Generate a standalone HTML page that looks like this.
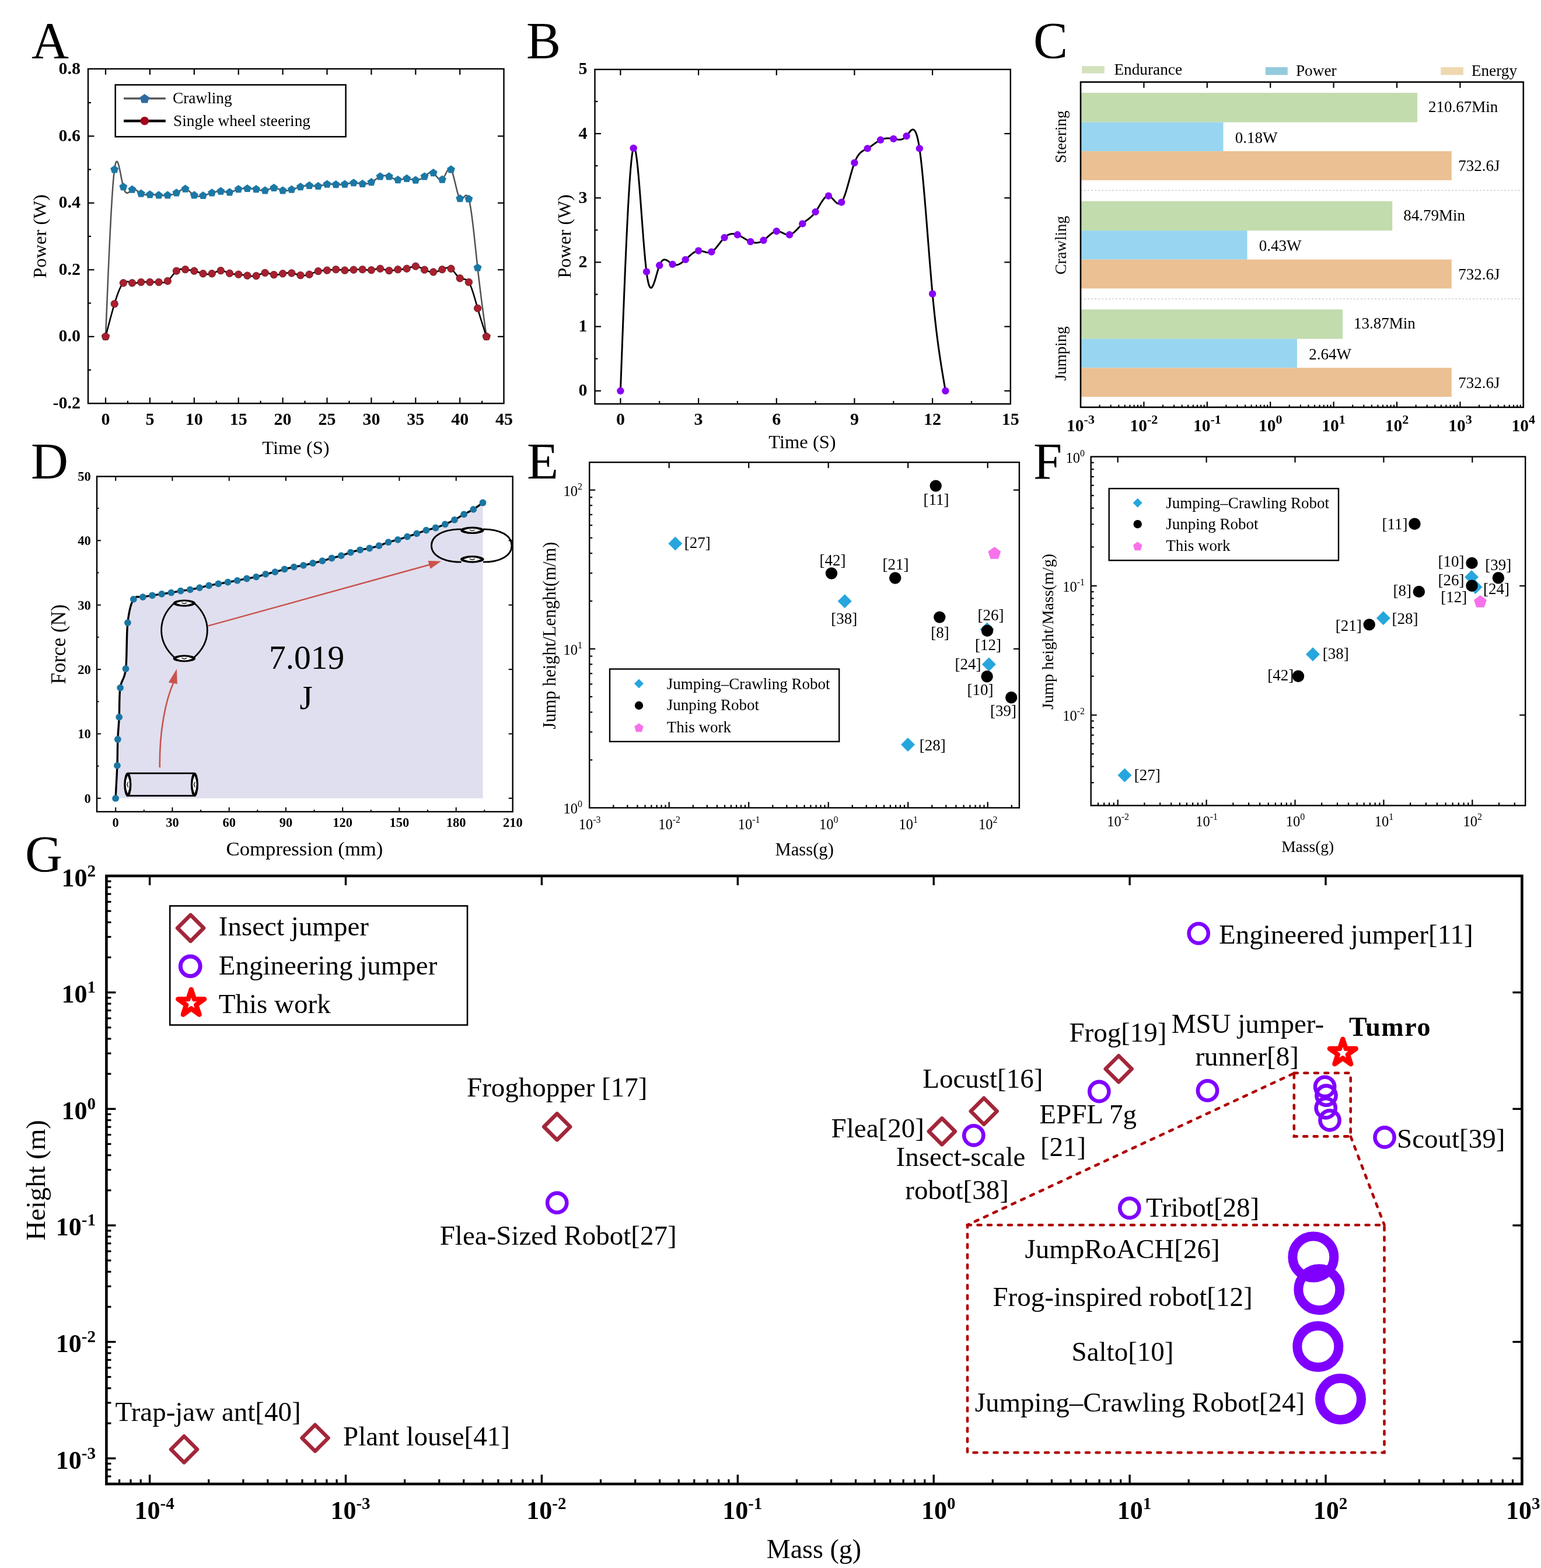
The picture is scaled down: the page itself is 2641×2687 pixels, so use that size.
<!DOCTYPE html>
<html><head><meta charset="utf-8"><title>Figure</title>
<style>html,body{margin:0;padding:0;background:#fff;overflow:hidden;} svg{display:block;} text{font-family:'Liberation Serif','Times New Roman',serif;}</style>
</head><body>
<svg width="2641" height="2687" viewBox="0 0 2641 2687">
<rect x="0" y="0" width="2641" height="2687" fill="#fff"/>
<text x="54.0" y="98.5" font-size="88.5" text-anchor="start" fill="#000">A</text>
<text x="902.0" y="98.5" font-size="88.5" text-anchor="start" fill="#000">B</text>
<text x="1771.0" y="98.5" font-size="88.5" text-anchor="start" fill="#000">C</text>
<text x="53.0" y="819.5" font-size="88.5" text-anchor="start" fill="#000">D</text>
<text x="903.0" y="819.5" font-size="88.5" text-anchor="start" fill="#000">E</text>
<text x="1771.0" y="819.5" font-size="88.5" text-anchor="start" fill="#000">F</text>
<text x="43.0" y="1493.0" font-size="88.5" text-anchor="start" fill="#000">G</text>
<rect x="151.0" y="118.0" width="712.5" height="573.3" fill="none" stroke="#000" stroke-width="2.4"/>
<line x1="181.0" y1="691.3" x2="181.0" y2="681.3" stroke="#000" stroke-width="2.2"/>
<line x1="181.0" y1="118.0" x2="181.0" y2="128.0" stroke="#000" stroke-width="2.2"/>
<text x="181.0" y="727.5" font-size="30" text-anchor="middle" font-weight="bold" fill="#000">0</text>
<line x1="256.9" y1="691.3" x2="256.9" y2="681.3" stroke="#000" stroke-width="2.2"/>
<line x1="256.9" y1="118.0" x2="256.9" y2="128.0" stroke="#000" stroke-width="2.2"/>
<text x="256.9" y="727.5" font-size="30" text-anchor="middle" font-weight="bold" fill="#000">5</text>
<line x1="332.8" y1="691.3" x2="332.8" y2="681.3" stroke="#000" stroke-width="2.2"/>
<line x1="332.8" y1="118.0" x2="332.8" y2="128.0" stroke="#000" stroke-width="2.2"/>
<text x="332.8" y="727.5" font-size="30" text-anchor="middle" font-weight="bold" fill="#000">10</text>
<line x1="408.7" y1="691.3" x2="408.7" y2="681.3" stroke="#000" stroke-width="2.2"/>
<line x1="408.7" y1="118.0" x2="408.7" y2="128.0" stroke="#000" stroke-width="2.2"/>
<text x="408.7" y="727.5" font-size="30" text-anchor="middle" font-weight="bold" fill="#000">15</text>
<line x1="484.6" y1="691.3" x2="484.6" y2="681.3" stroke="#000" stroke-width="2.2"/>
<line x1="484.6" y1="118.0" x2="484.6" y2="128.0" stroke="#000" stroke-width="2.2"/>
<text x="484.6" y="727.5" font-size="30" text-anchor="middle" font-weight="bold" fill="#000">20</text>
<line x1="560.5" y1="691.3" x2="560.5" y2="681.3" stroke="#000" stroke-width="2.2"/>
<line x1="560.5" y1="118.0" x2="560.5" y2="128.0" stroke="#000" stroke-width="2.2"/>
<text x="560.5" y="727.5" font-size="30" text-anchor="middle" font-weight="bold" fill="#000">25</text>
<line x1="636.4" y1="691.3" x2="636.4" y2="681.3" stroke="#000" stroke-width="2.2"/>
<line x1="636.4" y1="118.0" x2="636.4" y2="128.0" stroke="#000" stroke-width="2.2"/>
<text x="636.4" y="727.5" font-size="30" text-anchor="middle" font-weight="bold" fill="#000">30</text>
<line x1="712.3" y1="691.3" x2="712.3" y2="681.3" stroke="#000" stroke-width="2.2"/>
<line x1="712.3" y1="118.0" x2="712.3" y2="128.0" stroke="#000" stroke-width="2.2"/>
<text x="712.3" y="727.5" font-size="30" text-anchor="middle" font-weight="bold" fill="#000">35</text>
<line x1="788.2" y1="691.3" x2="788.2" y2="681.3" stroke="#000" stroke-width="2.2"/>
<line x1="788.2" y1="118.0" x2="788.2" y2="128.0" stroke="#000" stroke-width="2.2"/>
<text x="788.2" y="727.5" font-size="30" text-anchor="middle" font-weight="bold" fill="#000">40</text>
<text x="864.1" y="727.5" font-size="30" text-anchor="middle" font-weight="bold" fill="#000">45</text>
<line x1="218.9" y1="691.3" x2="218.9" y2="686.8" stroke="#000" stroke-width="2.2"/>
<line x1="294.9" y1="691.3" x2="294.9" y2="686.8" stroke="#000" stroke-width="2.2"/>
<line x1="370.8" y1="691.3" x2="370.8" y2="686.8" stroke="#000" stroke-width="2.2"/>
<line x1="446.6" y1="691.3" x2="446.6" y2="686.8" stroke="#000" stroke-width="2.2"/>
<line x1="522.5" y1="691.3" x2="522.5" y2="686.8" stroke="#000" stroke-width="2.2"/>
<line x1="598.5" y1="691.3" x2="598.5" y2="686.8" stroke="#000" stroke-width="2.2"/>
<line x1="674.3" y1="691.3" x2="674.3" y2="686.8" stroke="#000" stroke-width="2.2"/>
<line x1="750.2" y1="691.3" x2="750.2" y2="686.8" stroke="#000" stroke-width="2.2"/>
<line x1="826.1" y1="691.3" x2="826.1" y2="686.8" stroke="#000" stroke-width="2.2"/>
<text x="138.0" y="699.8" font-size="30" text-anchor="end" font-weight="bold" fill="#000">-0.2</text>
<line x1="151.0" y1="576.8" x2="161.5" y2="576.8" stroke="#000" stroke-width="2.2"/>
<line x1="863.5" y1="576.8" x2="853.0" y2="576.8" stroke="#000" stroke-width="2.2"/>
<text x="138.0" y="585.3" font-size="30" text-anchor="end" font-weight="bold" fill="#000">0.0</text>
<line x1="151.0" y1="462.3" x2="161.5" y2="462.3" stroke="#000" stroke-width="2.2"/>
<line x1="863.5" y1="462.3" x2="853.0" y2="462.3" stroke="#000" stroke-width="2.2"/>
<text x="138.0" y="470.8" font-size="30" text-anchor="end" font-weight="bold" fill="#000">0.2</text>
<line x1="151.0" y1="347.8" x2="161.5" y2="347.8" stroke="#000" stroke-width="2.2"/>
<line x1="863.5" y1="347.8" x2="853.0" y2="347.8" stroke="#000" stroke-width="2.2"/>
<text x="138.0" y="356.3" font-size="30" text-anchor="end" font-weight="bold" fill="#000">0.4</text>
<line x1="151.0" y1="233.3" x2="161.5" y2="233.3" stroke="#000" stroke-width="2.2"/>
<line x1="863.5" y1="233.3" x2="853.0" y2="233.3" stroke="#000" stroke-width="2.2"/>
<text x="138.0" y="241.8" font-size="30" text-anchor="end" font-weight="bold" fill="#000">0.6</text>
<text x="138.0" y="127.3" font-size="30" text-anchor="end" font-weight="bold" fill="#000">0.8</text>
<line x1="151.0" y1="634.0" x2="156.0" y2="634.0" stroke="#000" stroke-width="2.2"/>
<line x1="151.0" y1="519.5" x2="156.0" y2="519.5" stroke="#000" stroke-width="2.2"/>
<line x1="151.0" y1="405.0" x2="156.0" y2="405.0" stroke="#000" stroke-width="2.2"/>
<line x1="151.0" y1="290.5" x2="156.0" y2="290.5" stroke="#000" stroke-width="2.2"/>
<line x1="151.0" y1="176.0" x2="156.0" y2="176.0" stroke="#000" stroke-width="2.2"/>
<text x="78.5" y="405.0" font-size="32.5" text-anchor="middle" transform="rotate(-90 78.5 405.0)" fill="#000">Power (W)</text>
<text x="507.0" y="777.5" font-size="32.5" text-anchor="middle" fill="#000">Time (S)</text>
<polyline points="181.00,576.80 181.76,558.17 182.52,539.61 183.28,521.17 184.04,502.93 184.79,484.95 185.55,467.30 186.31,450.03 187.07,433.22 187.83,416.92 188.59,401.22 189.35,386.16 190.11,371.81 190.87,358.25 191.63,345.52 192.38,333.71 193.14,322.87 193.90,313.07 194.66,304.37 195.42,296.85 196.18,290.55 196.94,285.53 197.70,281.72 198.46,279.03 199.22,277.38 199.97,276.67 200.73,276.83 201.49,277.75 202.25,279.37 203.01,281.58 203.77,284.30 204.53,287.45 205.29,290.93 206.05,294.65 206.81,298.54 207.56,302.50 208.32,306.45 209.08,310.29 209.84,313.94 210.60,317.31 211.36,320.32 212.12,322.89 212.88,325.05 213.64,326.80 214.40,328.19 215.16,329.25 215.91,330.00 216.67,330.48 217.43,330.70 218.19,330.71 218.95,330.54 219.71,330.20 220.47,329.73 221.23,329.17 221.99,328.53 222.75,327.86 223.50,327.17 224.26,326.50 225.02,325.88 225.78,325.34 226.54,324.90 227.30,324.59 228.06,324.41 228.82,324.35 229.58,324.39 230.34,324.53 231.09,324.76 231.85,325.06 232.61,325.44 233.37,325.87 234.13,326.35 234.89,326.87 235.65,327.43 236.41,328.00 237.17,328.58 237.93,329.17 238.68,329.74 239.44,330.30 240.20,330.83 240.96,331.32 241.72,331.77 242.48,332.16 243.24,332.50 244.00,332.79 244.76,333.03 245.51,333.23 246.27,333.39 247.03,333.51 247.79,333.60 248.55,333.67 249.31,333.71 250.07,333.72 250.83,333.72 251.59,333.71 252.35,333.68 253.11,333.65 253.86,333.61 254.62,333.57 255.38,333.53 256.14,333.51 256.90,333.49 257.66,333.48 258.42,333.49 259.18,333.51 259.94,333.54 260.69,333.57 261.45,333.62 262.21,333.68 262.97,333.74 263.73,333.81 264.49,333.88 265.25,333.95 266.01,334.03 266.77,334.11 267.53,334.19 268.28,334.27 269.04,334.35 269.80,334.43 270.56,334.50 271.32,334.57 272.08,334.63 272.84,334.69 273.60,334.74 274.36,334.79 275.12,334.82 275.88,334.86 276.63,334.88 277.39,334.90 278.15,334.92 278.91,334.93 279.67,334.93 280.43,334.92 281.19,334.92 281.95,334.90 282.71,334.88 283.47,334.85 284.22,334.82 284.98,334.78 285.74,334.74 286.50,334.69 287.26,334.63 288.02,334.57 288.78,334.50 289.54,334.43 290.30,334.34 291.06,334.25 291.81,334.14 292.57,334.02 293.33,333.88 294.09,333.73 294.85,333.56 295.61,333.37 296.37,333.16 297.13,332.93 297.89,332.68 298.64,332.41 299.40,332.11 300.16,331.78 300.92,331.42 301.68,331.04 302.44,330.62 303.20,330.18 303.96,329.71 304.72,329.22 305.48,328.72 306.24,328.20 306.99,327.69 307.75,327.18 308.51,326.69 309.27,326.20 310.03,325.75 310.79,325.32 311.55,324.92 312.31,324.57 313.07,324.26 313.82,324.01 314.58,323.82 315.34,323.69 316.10,323.63 316.86,323.65 317.62,323.75 318.38,323.95 319.14,324.22 319.90,324.57 320.66,324.98 321.41,325.45 322.17,325.98 322.93,326.55 323.69,327.16 324.45,327.79 325.21,328.45 325.97,329.13 326.73,329.81 327.49,330.49 328.25,331.17 329.00,331.82 329.76,332.46 330.52,333.07 331.28,333.64 332.04,334.16 332.80,334.63 333.56,335.05 334.32,335.40 335.08,335.70 335.84,335.96 336.60,336.16 337.35,336.31 338.11,336.42 338.87,336.50 339.63,336.53 340.39,336.53 341.15,336.50 341.91,336.43 342.67,336.35 343.43,336.23 344.19,336.10 344.94,335.94 345.70,335.78 346.46,335.60 347.22,335.40 347.98,335.20 348.74,335.00 349.50,334.79 350.26,334.58 351.02,334.37 351.77,334.15 352.53,333.92 353.29,333.70 354.05,333.47 354.81,333.24 355.57,333.01 356.33,332.77 357.09,332.54 357.85,332.30 358.61,332.06 359.37,331.82 360.12,331.58 360.88,331.34 361.64,331.10 362.40,330.86 363.16,330.62 363.92,330.39 364.68,330.15 365.44,329.92 366.20,329.69 366.95,329.47 367.71,329.26 368.47,329.05 369.23,328.86 369.99,328.68 370.75,328.51 371.51,328.35 372.27,328.21 373.03,328.08 373.79,327.97 374.54,327.88 375.30,327.81 376.06,327.76 376.82,327.74 377.58,327.74 378.34,327.76 379.10,327.81 379.86,327.89 380.62,327.98 381.38,328.09 382.13,328.21 382.89,328.35 383.65,328.49 384.41,328.63 385.17,328.78 385.93,328.92 386.69,329.06 387.45,329.19 388.21,329.30 388.97,329.40 389.73,329.48 390.48,329.54 391.24,329.57 392.00,329.57 392.76,329.54 393.52,329.48 394.28,329.38 395.04,329.24 395.80,329.07 396.56,328.87 397.31,328.65 398.07,328.40 398.83,328.13 399.59,327.85 400.35,327.55 401.11,327.24 401.87,326.93 402.63,326.61 403.39,326.30 404.15,325.98 404.90,325.67 405.66,325.37 406.42,325.08 407.18,324.81 407.94,324.56 408.70,324.33 409.46,324.12 410.22,323.94 410.98,323.78 411.74,323.64 412.50,323.52 413.25,323.42 414.01,323.33 414.77,323.26 415.53,323.21 416.29,323.17 417.05,323.14 417.81,323.12 418.57,323.11 419.33,323.11 420.09,323.11 420.84,323.12 421.60,323.13 422.36,323.15 423.12,323.17 423.88,323.18 424.64,323.20 425.40,323.21 426.16,323.23 426.92,323.24 427.67,323.26 428.43,323.28 429.19,323.31 429.95,323.33 430.71,323.37 431.47,323.41 432.23,323.45 432.99,323.51 433.75,323.57 434.51,323.64 435.26,323.73 436.02,323.82 436.78,323.93 437.54,324.05 438.30,324.18 439.06,324.33 439.82,324.49 440.58,324.67 441.34,324.85 442.10,325.04 442.86,325.24 443.61,325.43 444.37,325.63 445.13,325.81 445.89,326.00 446.65,326.17 447.41,326.32 448.17,326.46 448.93,326.58 449.69,326.68 450.44,326.75 451.20,326.79 451.96,326.80 452.72,326.78 453.48,326.72 454.24,326.62 455.00,326.47 455.76,326.29 456.52,326.08 457.28,325.84 458.03,325.57 458.79,325.28 459.55,324.98 460.31,324.68 461.07,324.36 461.83,324.05 462.59,323.74 463.35,323.45 464.11,323.17 464.87,322.91 465.62,322.67 466.38,322.46 467.14,322.29 467.90,322.16 468.66,322.08 469.42,322.04 470.18,322.05 470.94,322.12 471.70,322.23 472.46,322.38 473.21,322.57 473.97,322.78 474.73,323.03 475.49,323.30 476.25,323.58 477.01,323.88 477.77,324.19 478.53,324.50 479.29,324.82 480.05,325.12 480.81,325.42 481.56,325.71 482.32,325.97 483.08,326.22 483.84,326.43 484.60,326.62 485.36,326.77 486.12,326.88 486.88,326.96 487.64,327.01 488.39,327.03 489.15,327.02 489.91,326.99 490.67,326.93 491.43,326.84 492.19,326.74 492.95,326.62 493.71,326.48 494.47,326.32 495.23,326.15 495.99,325.96 496.74,325.76 497.50,325.56 498.26,325.34 499.02,325.12 499.78,324.90 500.54,324.67 501.30,324.44 502.06,324.21 502.82,323.98 503.57,323.74 504.33,323.51 505.09,323.27 505.85,323.04 506.61,322.80 507.37,322.56 508.13,322.33 508.89,322.10 509.65,321.86 510.41,321.63 511.17,321.41 511.92,321.18 512.68,320.96 513.44,320.74 514.20,320.53 514.96,320.32 515.72,320.11 516.48,319.92 517.24,319.72 518.00,319.53 518.75,319.35 519.51,319.18 520.27,319.02 521.03,318.87 521.79,318.72 522.55,318.59 523.31,318.47 524.07,318.36 524.83,318.27 525.59,318.19 526.35,318.12 527.10,318.07 527.86,318.03 528.62,318.02 529.38,318.01 530.14,318.03 530.90,318.06 531.66,318.12 532.42,318.18 533.18,318.26 533.93,318.34 534.69,318.44 535.45,318.53 536.21,318.63 536.97,318.73 537.73,318.83 538.49,318.92 539.25,319.01 540.01,319.09 540.77,319.15 541.52,319.21 542.28,319.24 543.04,319.26 543.80,319.25 544.56,319.23 545.32,319.17 546.08,319.10 546.84,318.99 547.60,318.86 548.36,318.72 549.12,318.55 549.87,318.37 550.63,318.18 551.39,317.98 552.15,317.77 552.91,317.55 553.67,317.34 554.43,317.12 555.19,316.91 555.95,316.71 556.70,316.51 557.46,316.32 558.22,316.15 558.98,315.99 559.74,315.86 560.50,315.74 561.26,315.65 562.02,315.58 562.78,315.53 563.54,315.50 564.30,315.48 565.05,315.48 565.81,315.50 566.57,315.53 567.33,315.57 568.09,315.62 568.85,315.68 569.61,315.75 570.37,315.82 571.13,315.89 571.88,315.97 572.64,316.04 573.40,316.12 574.16,316.19 574.92,316.25 575.68,316.31 576.44,316.36 577.20,316.41 577.96,316.45 578.72,316.47 579.47,316.49 580.23,316.50 580.99,316.51 581.75,316.50 582.51,316.49 583.27,316.47 584.03,316.43 584.79,316.39 585.55,316.35 586.31,316.29 587.07,316.22 587.82,316.14 588.58,316.06 589.34,315.96 590.10,315.85 590.86,315.74 591.62,315.62 592.38,315.48 593.14,315.34 593.90,315.20 594.65,315.05 595.41,314.90 596.17,314.75 596.93,314.60 597.69,314.45 598.45,314.31 599.21,314.17 599.97,314.04 600.73,313.92 601.49,313.81 602.25,313.71 603.00,313.63 603.76,313.56 604.52,313.50 605.28,313.47 606.04,313.45 606.80,313.45 607.56,313.48 608.32,313.52 609.08,313.57 609.84,313.64 610.59,313.73 611.35,313.82 612.11,313.92 612.87,314.03 613.63,314.14 614.39,314.26 615.15,314.38 615.91,314.50 616.67,314.61 617.42,314.73 618.18,314.83 618.94,314.93 619.70,315.02 620.46,315.10 621.22,315.17 621.98,315.22 622.74,315.26 623.50,315.28 624.26,315.28 625.01,315.27 625.77,315.23 626.53,315.18 627.29,315.11 628.05,315.01 628.81,314.89 629.57,314.75 630.33,314.59 631.09,314.40 631.85,314.18 632.61,313.94 633.36,313.67 634.12,313.38 634.88,313.05 635.64,312.69 636.40,312.30 637.16,311.89 637.92,311.44 638.68,310.97 639.44,310.47 640.19,309.96 640.95,309.44 641.71,308.90 642.47,308.36 643.23,307.81 643.99,307.27 644.75,306.73 645.51,306.19 646.27,305.66 647.03,305.15 647.78,304.66 648.54,304.18 649.30,303.74 650.06,303.32 650.82,302.93 651.58,302.57 652.34,302.26 653.10,301.98 653.86,301.74 654.62,301.53 655.38,301.36 656.13,301.23 656.89,301.13 657.65,301.06 658.41,301.03 659.17,301.02 659.93,301.05 660.69,301.11 661.45,301.20 662.21,301.31 662.96,301.46 663.72,301.63 664.48,301.83 665.24,302.05 666.00,302.30 666.76,302.57 667.52,302.87 668.28,303.18 669.04,303.51 669.80,303.86 670.56,304.21 671.31,304.57 672.07,304.93 672.83,305.30 673.59,305.65 674.35,306.00 675.11,306.34 675.87,306.66 676.63,306.97 677.39,307.25 678.14,307.51 678.90,307.74 679.66,307.93 680.42,308.10 681.18,308.22 681.94,308.30 682.70,308.33 683.46,308.33 684.22,308.28 684.98,308.20 685.74,308.10 686.49,307.97 687.25,307.82 688.01,307.65 688.77,307.48 689.53,307.29 690.29,307.10 691.05,306.92 691.81,306.74 692.57,306.57 693.33,306.41 694.08,306.28 694.84,306.16 695.60,306.08 696.36,306.03 697.12,306.01 697.88,306.03 698.64,306.09 699.40,306.18 700.16,306.30 700.91,306.44 701.67,306.60 702.43,306.79 703.19,306.98 703.95,307.18 704.71,307.39 705.47,307.60 706.23,307.80 706.99,308.00 707.75,308.19 708.50,308.36 709.26,308.52 710.02,308.65 710.78,308.76 711.54,308.83 712.30,308.87 713.06,308.87 713.82,308.84 714.58,308.76 715.34,308.66 716.10,308.51 716.85,308.33 717.61,308.12 718.37,307.87 719.13,307.59 719.89,307.28 720.65,306.94 721.41,306.57 722.17,306.16 722.93,305.73 723.68,305.27 724.44,304.78 725.20,304.27 725.96,303.73 726.72,303.16 727.48,302.57 728.24,301.96 729.00,301.33 729.76,300.69 730.52,300.06 731.27,299.43 732.03,298.81 732.79,298.22 733.55,297.66 734.31,297.14 735.07,296.67 735.83,296.25 736.59,295.90 737.35,295.61 738.11,295.41 738.87,295.29 739.62,295.27 740.38,295.34 741.14,295.53 741.90,295.84 742.66,296.27 743.42,296.84 744.18,297.52 744.94,298.29 745.70,299.14 746.46,300.05 747.21,301.00 747.97,301.97 748.73,302.94 749.49,303.89 750.25,304.81 751.01,305.66 751.77,306.45 752.53,307.14 753.29,307.71 754.04,308.16 754.80,308.45 755.56,308.57 756.32,308.50 757.08,308.23 757.84,307.72 758.60,306.98 759.36,306.03 760.12,304.90 760.88,303.62 761.63,302.23 762.39,300.76 763.15,299.24 763.91,297.71 764.67,296.20 765.43,294.75 766.19,293.38 766.95,292.14 767.71,291.05 768.47,290.14 769.23,289.46 769.98,289.04 770.74,288.90 771.50,289.08 772.26,289.62 773.02,290.55 773.78,291.89 774.54,293.60 775.30,295.65 776.06,298.00 776.81,300.59 777.57,303.40 778.33,306.36 779.09,309.45 779.85,312.62 780.61,315.82 781.37,319.02 782.13,322.16 782.89,325.21 783.65,328.13 784.40,330.86 785.16,333.38 785.92,335.63 786.68,337.57 787.44,339.16 788.20,340.36 788.96,341.13 789.72,341.52 790.48,341.58 791.24,341.36 792.00,340.90 792.75,340.26 793.51,339.49 794.27,338.64 795.03,337.76 795.79,336.91 796.55,336.13 797.31,335.48 798.07,335.01 798.83,334.76 799.59,334.79 800.34,335.15 801.10,335.90 801.86,337.08 802.62,338.74 803.38,340.93 804.14,343.70 804.90,347.01 805.66,350.84 806.42,355.14 807.17,359.89 807.93,365.03 808.69,370.54 809.45,376.39 810.21,382.52 810.97,388.91 811.73,395.52 812.49,402.32 813.25,409.26 814.01,416.31 814.76,423.43 815.52,430.59 816.28,437.75 817.04,444.87 817.80,451.92 818.56,458.86 819.32,465.67 820.08,472.33 820.84,478.86 821.60,485.26 822.36,491.55 823.11,497.73 823.87,503.81 824.63,509.79 825.39,515.68 826.15,521.49 826.91,527.23 827.67,532.91 828.43,538.52 829.19,544.09 829.94,549.60 830.70,555.09 831.46,560.54 832.22,565.97 832.98,571.39 833.74,576.80" fill="none" stroke="#505050" stroke-width="2.5" stroke-linejoin="round"/>
<polyline points="181.00,576.80 181.76,573.86 182.52,570.91 183.28,567.98 184.04,565.04 184.79,562.12 185.55,559.21 186.31,556.31 187.07,553.42 187.83,550.55 188.59,547.71 189.35,544.88 190.11,542.07 190.87,539.29 191.63,536.54 192.38,533.82 193.14,531.13 193.90,528.47 194.66,525.85 195.42,523.27 196.18,520.73 196.94,518.23 197.70,515.78 198.46,513.38 199.22,511.03 199.97,508.75 200.73,506.53 201.49,504.38 202.25,502.31 203.01,500.31 203.77,498.40 204.53,496.58 205.29,494.85 206.05,493.22 206.81,491.69 207.56,490.26 208.32,488.95 209.08,487.76 209.84,486.68 210.60,485.74 211.36,484.92 212.12,484.23 212.88,483.67 213.64,483.23 214.40,482.89 215.16,482.65 215.91,482.51 216.67,482.44 217.43,482.45 218.19,482.52 218.95,482.64 219.71,482.81 220.47,483.02 221.23,483.25 221.99,483.50 222.75,483.77 223.50,484.03 224.26,484.29 225.02,484.53 225.78,484.74 226.54,484.92 227.30,485.05 228.06,485.15 228.82,485.21 229.58,485.24 230.34,485.23 231.09,485.20 231.85,485.14 232.61,485.06 233.37,484.96 234.13,484.84 234.89,484.71 235.65,484.58 236.41,484.43 237.17,484.28 237.93,484.14 238.68,483.99 239.44,483.85 240.20,483.72 240.96,483.61 241.72,483.50 242.48,483.42 243.24,483.35 244.00,483.30 244.76,483.26 245.51,483.24 246.27,483.22 247.03,483.22 247.79,483.22 248.55,483.24 249.31,483.26 250.07,483.28 250.83,483.31 251.59,483.34 252.35,483.37 253.11,483.40 253.86,483.43 254.62,483.46 255.38,483.48 256.14,483.50 256.90,483.50 257.66,483.50 258.42,483.50 259.18,483.49 259.94,483.47 260.69,483.45 261.45,483.42 262.21,483.40 262.97,483.37 263.73,483.35 264.49,483.33 265.25,483.31 266.01,483.30 266.77,483.29 267.53,483.29 268.28,483.30 269.04,483.31 269.80,483.34 270.56,483.38 271.32,483.44 272.08,483.50 272.84,483.59 273.60,483.68 274.36,483.78 275.12,483.88 275.88,483.97 276.63,484.06 277.39,484.13 278.15,484.18 278.91,484.22 279.67,484.22 280.43,484.19 281.19,484.12 281.95,484.01 282.71,483.85 283.47,483.64 284.22,483.37 284.98,483.04 285.74,482.64 286.50,482.17 287.26,481.62 288.02,480.99 288.78,480.29 289.54,479.52 290.30,478.70 291.06,477.83 291.81,476.91 292.57,475.96 293.33,474.98 294.09,473.99 294.85,472.99 295.61,471.98 296.37,470.99 297.13,470.00 297.89,469.04 298.64,468.11 299.40,467.21 300.16,466.37 300.92,465.58 301.68,464.84 302.44,464.18 303.20,463.60 303.96,463.09 304.72,462.65 305.48,462.28 306.24,461.97 306.99,461.71 307.75,461.51 308.51,461.36 309.27,461.25 310.03,461.18 310.79,461.15 311.55,461.15 312.31,461.18 313.07,461.24 313.82,461.31 314.58,461.40 315.34,461.50 316.10,461.61 316.86,461.72 317.62,461.83 318.38,461.93 319.14,462.03 319.90,462.13 320.66,462.23 321.41,462.32 322.17,462.41 322.93,462.51 323.69,462.60 324.45,462.70 325.21,462.80 325.97,462.90 326.73,463.01 327.49,463.13 328.25,463.25 329.00,463.38 329.76,463.52 330.52,463.67 331.28,463.83 332.04,464.00 332.80,464.18 333.56,464.38 334.32,464.59 335.08,464.81 335.84,465.04 336.60,465.28 337.35,465.53 338.11,465.78 338.87,466.03 339.63,466.29 340.39,466.55 341.15,466.81 341.91,467.06 342.67,467.32 343.43,467.57 344.19,467.81 344.94,468.05 345.70,468.28 346.46,468.49 347.22,468.70 347.98,468.90 348.74,469.08 349.50,469.24 350.26,469.40 351.02,469.53 351.77,469.65 352.53,469.75 353.29,469.83 354.05,469.89 354.81,469.94 355.57,469.96 356.33,469.96 357.09,469.94 357.85,469.90 358.61,469.83 359.37,469.74 360.12,469.62 360.88,469.48 361.64,469.31 362.40,469.12 363.16,468.90 363.92,468.65 364.68,468.37 365.44,468.08 366.20,467.76 366.95,467.44 367.71,467.10 368.47,466.77 369.23,466.43 369.99,466.09 370.75,465.76 371.51,465.44 372.27,465.14 373.03,464.85 373.79,464.59 374.54,464.35 375.30,464.15 376.06,463.98 376.82,463.85 377.58,463.76 378.34,463.71 379.10,463.72 379.86,463.77 380.62,463.87 381.38,464.00 382.13,464.17 382.89,464.38 383.65,464.61 384.41,464.86 385.17,465.13 385.93,465.43 386.69,465.73 387.45,466.04 388.21,466.36 388.97,466.68 389.73,467.00 390.48,467.31 391.24,467.61 392.00,467.90 392.76,468.17 393.52,468.43 394.28,468.65 395.04,468.86 395.80,469.04 396.56,469.20 397.31,469.35 398.07,469.47 398.83,469.58 399.59,469.68 400.35,469.77 401.11,469.84 401.87,469.90 402.63,469.96 403.39,470.01 404.15,470.06 404.90,470.10 405.66,470.14 406.42,470.18 407.18,470.22 407.94,470.26 408.70,470.31 409.46,470.36 410.22,470.42 410.98,470.49 411.74,470.56 412.50,470.63 413.25,470.71 414.01,470.79 414.77,470.88 415.53,470.97 416.29,471.07 417.05,471.17 417.81,471.27 418.57,471.38 419.33,471.48 420.09,471.60 420.84,471.71 421.60,471.83 422.36,471.95 423.12,472.07 423.88,472.20 424.64,472.32 425.40,472.45 426.16,472.57 426.92,472.69 427.67,472.80 428.43,472.91 429.19,473.01 429.95,473.10 430.71,473.17 431.47,473.23 432.23,473.28 432.99,473.30 433.75,473.31 434.51,473.30 435.26,473.26 436.02,473.20 436.78,473.11 437.54,472.99 438.30,472.85 439.06,472.67 439.82,472.45 440.58,472.21 441.34,471.95 442.10,471.66 442.86,471.35 443.61,471.03 444.37,470.70 445.13,470.37 445.89,470.04 446.65,469.71 447.41,469.38 448.17,469.07 448.93,468.77 449.69,468.50 450.44,468.24 451.20,468.02 451.96,467.83 452.72,467.67 453.48,467.55 454.24,467.48 455.00,467.46 455.76,467.48 456.52,467.54 457.28,467.64 458.03,467.76 458.79,467.92 459.55,468.10 460.31,468.30 461.07,468.52 461.83,468.75 462.59,468.98 463.35,469.22 464.11,469.46 464.87,469.70 465.62,469.92 466.38,470.14 467.14,470.33 467.90,470.51 468.66,470.66 469.42,470.78 470.18,470.87 470.94,470.93 471.70,470.96 472.46,470.96 473.21,470.93 473.97,470.89 474.73,470.82 475.49,470.73 476.25,470.63 477.01,470.51 477.77,470.37 478.53,470.23 479.29,470.07 480.05,469.91 480.81,469.74 481.56,469.57 482.32,469.40 483.08,469.23 483.84,469.06 484.60,468.90 485.36,468.74 486.12,468.59 486.88,468.45 487.64,468.31 488.39,468.19 489.15,468.07 489.91,467.97 490.67,467.88 491.43,467.80 492.19,467.73 492.95,467.68 493.71,467.64 494.47,467.62 495.23,467.61 495.99,467.62 496.74,467.65 497.50,467.70 498.26,467.76 499.02,467.85 499.78,467.95 500.54,468.08 501.30,468.23 502.06,468.39 502.82,468.57 503.57,468.76 504.33,468.96 505.09,469.17 505.85,469.38 506.61,469.60 507.37,469.83 508.13,470.05 508.89,470.27 509.65,470.49 510.41,470.70 511.17,470.90 511.92,471.10 512.68,471.28 513.44,471.44 514.20,471.59 514.96,471.72 515.72,471.84 516.48,471.93 517.24,472.00 518.00,472.05 518.75,472.08 519.51,472.09 520.27,472.08 521.03,472.05 521.79,472.01 522.55,471.94 523.31,471.86 524.07,471.76 524.83,471.64 525.59,471.50 526.35,471.34 527.10,471.17 527.86,470.98 528.62,470.77 529.38,470.55 530.14,470.31 530.90,470.05 531.66,469.78 532.42,469.50 533.18,469.21 533.93,468.90 534.69,468.60 535.45,468.28 536.21,467.96 536.97,467.65 537.73,467.33 538.49,467.02 539.25,466.71 540.01,466.41 540.77,466.12 541.52,465.83 542.28,465.57 543.04,465.31 543.80,465.07 544.56,464.85 545.32,464.66 546.08,464.48 546.84,464.32 547.60,464.19 548.36,464.07 549.12,463.96 549.87,463.88 550.63,463.80 551.39,463.73 552.15,463.68 552.91,463.63 553.67,463.59 554.43,463.55 555.19,463.52 555.95,463.49 556.70,463.46 557.46,463.42 558.22,463.39 558.98,463.35 559.74,463.30 560.50,463.24 561.26,463.18 562.02,463.10 562.78,463.02 563.54,462.94 564.30,462.84 565.05,462.75 565.81,462.65 566.57,462.56 567.33,462.46 568.09,462.37 568.85,462.28 569.61,462.19 570.37,462.11 571.13,462.04 571.88,461.97 572.64,461.92 573.40,461.88 574.16,461.85 574.92,461.83 575.68,461.83 576.44,461.84 577.20,461.87 577.96,461.92 578.72,461.97 579.47,462.03 580.23,462.11 580.99,462.19 581.75,462.28 582.51,462.37 583.27,462.46 584.03,462.56 584.79,462.66 585.55,462.75 586.31,462.84 587.07,462.93 587.82,463.01 588.58,463.08 589.34,463.15 590.10,463.20 590.86,463.24 591.62,463.27 592.38,463.29 593.14,463.29 593.90,463.28 594.65,463.26 595.41,463.24 596.17,463.20 596.93,463.16 597.69,463.11 598.45,463.05 599.21,462.98 599.97,462.92 600.73,462.85 601.49,462.77 602.25,462.69 603.00,462.61 603.76,462.53 604.52,462.46 605.28,462.38 606.04,462.30 606.80,462.23 607.56,462.15 608.32,462.09 609.08,462.02 609.84,461.96 610.59,461.91 611.35,461.85 612.11,461.81 612.87,461.77 613.63,461.74 614.39,461.71 615.15,461.69 615.91,461.68 616.67,461.67 617.42,461.67 618.18,461.69 618.94,461.71 619.70,461.74 620.46,461.78 621.22,461.83 621.98,461.89 622.74,461.96 623.50,462.04 624.26,462.12 625.01,462.20 625.77,462.29 626.53,462.38 627.29,462.47 628.05,462.55 628.81,462.63 629.57,462.70 630.33,462.77 631.09,462.82 631.85,462.86 632.61,462.89 633.36,462.90 634.12,462.90 634.88,462.88 635.64,462.84 636.40,462.77 637.16,462.68 637.92,462.57 638.68,462.45 639.44,462.31 640.19,462.15 640.95,461.99 641.71,461.82 642.47,461.65 643.23,461.48 643.99,461.31 644.75,461.14 645.51,460.99 646.27,460.85 647.03,460.72 647.78,460.61 648.54,460.51 649.30,460.45 650.06,460.41 650.82,460.39 651.58,460.42 652.34,460.47 653.10,460.56 653.86,460.67 654.62,460.81 655.38,460.97 656.13,461.16 656.89,461.35 657.65,461.56 658.41,461.77 659.17,461.99 659.93,462.21 660.69,462.43 661.45,462.65 662.21,462.85 662.96,463.05 663.72,463.22 664.48,463.38 665.24,463.52 666.00,463.63 666.76,463.71 667.52,463.76 668.28,463.78 669.04,463.78 669.80,463.75 670.56,463.69 671.31,463.62 672.07,463.52 672.83,463.42 673.59,463.30 674.35,463.17 675.11,463.03 675.87,462.88 676.63,462.74 677.39,462.59 678.14,462.44 678.90,462.30 679.66,462.17 680.42,462.04 681.18,461.93 681.94,461.83 682.70,461.75 683.46,461.68 684.22,461.62 684.98,461.57 685.74,461.53 686.49,461.50 687.25,461.47 688.01,461.44 688.77,461.42 689.53,461.38 690.29,461.35 691.05,461.30 691.81,461.25 692.57,461.18 693.33,461.10 694.08,461.01 694.84,460.89 695.60,460.76 696.36,460.60 697.12,460.42 697.88,460.21 698.64,459.97 699.40,459.72 700.16,459.46 700.91,459.18 701.67,458.89 702.43,458.60 703.19,458.31 703.95,458.02 704.71,457.74 705.47,457.47 706.23,457.21 706.99,456.98 707.75,456.76 708.50,456.58 709.26,456.42 710.02,456.30 710.78,456.21 711.54,456.17 712.30,456.17 713.06,456.23 713.82,456.32 714.58,456.46 715.34,456.64 716.10,456.86 716.85,457.11 717.61,457.39 718.37,457.70 719.13,458.03 719.89,458.38 720.65,458.75 721.41,459.13 722.17,459.52 722.93,459.92 723.68,460.33 724.44,460.73 725.20,461.13 725.96,461.53 726.72,461.92 727.48,462.30 728.24,462.66 729.00,463.01 729.76,463.34 730.52,463.66 731.27,463.95 732.03,464.24 732.79,464.50 733.55,464.74 734.31,464.97 735.07,465.17 735.83,465.36 736.59,465.53 737.35,465.67 738.11,465.80 738.87,465.90 739.62,465.98 740.38,466.04 741.14,466.07 741.90,466.08 742.66,466.07 743.42,466.03 744.18,465.97 744.94,465.89 745.70,465.78 746.46,465.66 747.21,465.51 747.97,465.34 748.73,465.16 749.49,464.96 750.25,464.74 751.01,464.50 751.77,464.26 752.53,463.99 753.29,463.72 754.04,463.43 754.80,463.13 755.56,462.82 756.32,462.50 757.08,462.17 757.84,461.83 758.60,461.49 759.36,461.14 760.12,460.80 760.88,460.46 761.63,460.14 762.39,459.84 763.15,459.56 763.91,459.31 764.67,459.10 765.43,458.92 766.19,458.79 766.95,458.70 767.71,458.67 768.47,458.70 769.23,458.80 769.98,458.96 770.74,459.20 771.50,459.52 772.26,459.92 773.02,460.42 773.78,461.00 774.54,461.67 775.30,462.42 776.06,463.23 776.81,464.10 777.57,465.01 778.33,465.96 779.09,466.93 779.85,467.92 780.61,468.91 781.37,469.90 782.13,470.87 782.89,471.82 783.65,472.73 784.40,473.60 785.16,474.41 785.92,475.16 786.68,475.83 787.44,476.42 788.20,476.91 788.96,477.30 789.72,477.60 790.48,477.82 791.24,477.98 792.00,478.09 792.75,478.17 793.51,478.22 794.27,478.27 795.03,478.33 795.79,478.41 796.55,478.53 797.31,478.69 798.07,478.92 798.83,479.23 799.59,479.63 800.34,480.13 801.10,480.76 801.86,481.52 802.62,482.43 803.38,483.50 804.14,484.75 804.90,486.16 805.66,487.73 806.42,489.44 807.17,491.29 807.93,493.27 808.69,495.36 809.45,497.55 810.21,499.84 810.97,502.21 811.73,504.66 812.49,507.17 813.25,509.73 814.01,512.33 814.76,514.97 815.52,517.63 816.28,520.30 817.04,522.97 817.80,525.63 818.56,528.27 819.32,530.88 820.08,533.46 820.84,536.02 821.60,538.55 822.36,541.06 823.11,543.54 823.87,546.01 824.63,548.45 825.39,550.88 826.15,553.29 826.91,555.68 827.67,558.06 828.43,560.43 829.19,562.79 829.94,565.14 830.70,567.48 831.46,569.81 832.22,572.15 832.98,574.47 833.74,576.80" fill="none" stroke="#000" stroke-width="2.6" stroke-linejoin="round"/>
<polygon points="181.00,569.50 187.94,574.54 185.29,582.71 176.71,582.71 174.06,574.54" fill="#1b78a6" stroke="none" stroke-width="0"/>
<polygon points="196.18,283.25 203.12,288.29 200.47,296.46 191.89,296.46 189.24,288.29" fill="#1b78a6" stroke="none" stroke-width="0"/>
<polygon points="211.36,313.02 218.30,318.06 215.65,326.23 207.07,326.23 204.42,318.06" fill="#1b78a6" stroke="none" stroke-width="0"/>
<polygon points="226.54,317.60 233.48,322.64 230.83,330.81 222.25,330.81 219.60,322.64" fill="#1b78a6" stroke="none" stroke-width="0"/>
<polygon points="241.72,324.47 248.66,329.51 246.01,337.68 237.43,337.68 234.78,329.51" fill="#1b78a6" stroke="none" stroke-width="0"/>
<polygon points="256.90,326.19 263.84,331.23 261.19,339.39 252.61,339.39 249.96,331.23" fill="#1b78a6" stroke="none" stroke-width="0"/>
<polygon points="272.08,327.33 279.02,332.38 276.37,340.54 267.79,340.54 265.14,332.38" fill="#1b78a6" stroke="none" stroke-width="0"/>
<polygon points="287.26,327.33 294.20,332.38 291.55,340.54 282.97,340.54 280.32,332.38" fill="#1b78a6" stroke="none" stroke-width="0"/>
<polygon points="302.44,323.32 309.38,328.37 306.73,336.53 298.15,336.53 295.50,328.37" fill="#1b78a6" stroke="none" stroke-width="0"/>
<polygon points="317.62,316.45 324.56,321.50 321.91,329.66 313.33,329.66 310.68,321.50" fill="#1b78a6" stroke="none" stroke-width="0"/>
<polygon points="332.80,327.33 339.74,332.38 337.09,340.54 328.51,340.54 325.86,332.38" fill="#1b78a6" stroke="none" stroke-width="0"/>
<polygon points="347.98,327.90 354.92,332.95 352.27,341.11 343.69,341.11 341.04,332.95" fill="#1b78a6" stroke="none" stroke-width="0"/>
<polygon points="363.16,323.32 370.10,328.37 367.45,336.53 358.87,336.53 356.22,328.37" fill="#1b78a6" stroke="none" stroke-width="0"/>
<polygon points="378.34,320.46 385.28,325.51 382.63,333.67 374.05,333.67 371.40,325.51" fill="#1b78a6" stroke="none" stroke-width="0"/>
<polygon points="393.52,322.18 400.46,327.22 397.81,335.39 389.23,335.39 386.58,327.22" fill="#1b78a6" stroke="none" stroke-width="0"/>
<polygon points="408.70,317.03 415.64,322.07 412.99,330.23 404.41,330.23 401.76,322.07" fill="#1b78a6" stroke="none" stroke-width="0"/>
<polygon points="423.88,315.88 430.82,320.93 428.17,329.09 419.59,329.09 416.94,320.93" fill="#1b78a6" stroke="none" stroke-width="0"/>
<polygon points="439.06,317.03 446.00,322.07 443.35,330.23 434.77,330.23 432.12,322.07" fill="#1b78a6" stroke="none" stroke-width="0"/>
<polygon points="454.24,319.32 461.18,324.36 458.53,332.52 449.95,332.52 447.30,324.36" fill="#1b78a6" stroke="none" stroke-width="0"/>
<polygon points="469.42,314.74 476.36,319.78 473.71,327.94 465.13,327.94 462.48,319.78" fill="#1b78a6" stroke="none" stroke-width="0"/>
<polygon points="484.60,319.32 491.54,324.36 488.89,332.52 480.31,332.52 477.66,324.36" fill="#1b78a6" stroke="none" stroke-width="0"/>
<polygon points="499.78,317.60 506.72,322.64 504.07,330.81 495.49,330.81 492.84,322.64" fill="#1b78a6" stroke="none" stroke-width="0"/>
<polygon points="514.96,313.02 521.90,318.06 519.25,326.23 510.67,326.23 508.02,318.06" fill="#1b78a6" stroke="none" stroke-width="0"/>
<polygon points="530.14,310.73 537.08,315.77 534.43,323.94 525.85,323.94 523.20,315.77" fill="#1b78a6" stroke="none" stroke-width="0"/>
<polygon points="545.32,311.87 552.26,316.92 549.61,325.08 541.03,325.08 538.38,316.92" fill="#1b78a6" stroke="none" stroke-width="0"/>
<polygon points="560.50,308.44 567.44,313.48 564.79,321.65 556.21,321.65 553.56,313.48" fill="#1b78a6" stroke="none" stroke-width="0"/>
<polygon points="575.68,309.01 582.62,314.06 579.97,322.22 571.39,322.22 568.74,314.06" fill="#1b78a6" stroke="none" stroke-width="0"/>
<polygon points="590.86,308.44 597.80,313.48 595.15,321.65 586.57,321.65 583.92,313.48" fill="#1b78a6" stroke="none" stroke-width="0"/>
<polygon points="606.04,306.15 612.98,311.19 610.33,319.36 601.75,319.36 599.10,311.19" fill="#1b78a6" stroke="none" stroke-width="0"/>
<polygon points="621.22,307.87 628.16,312.91 625.51,321.07 616.93,321.07 614.28,312.91" fill="#1b78a6" stroke="none" stroke-width="0"/>
<polygon points="636.40,305.00 643.34,310.05 640.69,318.21 632.11,318.21 629.46,310.05" fill="#1b78a6" stroke="none" stroke-width="0"/>
<polygon points="651.58,295.27 658.52,300.32 655.87,308.48 647.29,308.48 644.64,300.32" fill="#1b78a6" stroke="none" stroke-width="0"/>
<polygon points="666.76,295.27 673.70,300.32 671.05,308.48 662.47,308.48 659.82,300.32" fill="#1b78a6" stroke="none" stroke-width="0"/>
<polygon points="681.94,301.00 688.88,306.04 686.23,314.20 677.65,314.20 675.00,306.04" fill="#1b78a6" stroke="none" stroke-width="0"/>
<polygon points="697.12,298.71 704.06,303.75 701.41,311.91 692.83,311.91 690.18,303.75" fill="#1b78a6" stroke="none" stroke-width="0"/>
<polygon points="712.30,301.57 719.24,306.61 716.59,314.78 708.01,314.78 705.36,306.61" fill="#1b78a6" stroke="none" stroke-width="0"/>
<polygon points="727.48,295.27 734.42,300.32 731.77,308.48 723.19,308.48 720.54,300.32" fill="#1b78a6" stroke="none" stroke-width="0"/>
<polygon points="742.66,288.97 749.60,294.02 746.95,302.18 738.37,302.18 735.72,294.02" fill="#1b78a6" stroke="none" stroke-width="0"/>
<polygon points="757.84,300.42 764.78,305.47 762.13,313.63 753.55,313.63 750.90,305.47" fill="#1b78a6" stroke="none" stroke-width="0"/>
<polygon points="773.02,283.25 779.96,288.29 777.31,296.46 768.73,296.46 766.08,288.29" fill="#1b78a6" stroke="none" stroke-width="0"/>
<polygon points="788.20,333.06 795.14,338.10 792.49,346.26 783.91,346.26 781.26,338.10" fill="#1b78a6" stroke="none" stroke-width="0"/>
<polygon points="803.38,333.63 810.32,338.67 807.67,346.84 799.09,346.84 796.44,338.67" fill="#1b78a6" stroke="none" stroke-width="0"/>
<polygon points="818.56,451.56 825.50,456.61 822.85,464.77 814.27,464.77 811.62,456.61" fill="#1b78a6" stroke="none" stroke-width="0"/>
<polygon points="833.74,569.50 840.68,574.54 838.03,582.71 829.45,582.71 826.80,574.54" fill="#1b78a6" stroke="none" stroke-width="0"/>
<polygon points="181.00,569.50 187.94,574.54 185.29,582.71 176.71,582.71 174.06,574.54" fill="#a91f2e" stroke="none" stroke-width="0"/>
<polygon points="833.74,569.50 840.68,574.54 838.03,582.71 829.45,582.71 826.80,574.54" fill="#a91f2e" stroke="none" stroke-width="0"/>
<circle cx="181.0" cy="576.8" r="6.3" fill="#a91f2e" stroke="#3a0a10" stroke-width="0.6"/>
<circle cx="196.2" cy="520.7" r="6.3" fill="#a91f2e" stroke="#3a0a10" stroke-width="0.6"/>
<circle cx="211.4" cy="484.9" r="6.3" fill="#a91f2e" stroke="#3a0a10" stroke-width="0.6"/>
<circle cx="226.5" cy="484.9" r="6.3" fill="#a91f2e" stroke="#3a0a10" stroke-width="0.6"/>
<circle cx="241.7" cy="483.5" r="6.3" fill="#a91f2e" stroke="#3a0a10" stroke-width="0.6"/>
<circle cx="256.9" cy="483.5" r="6.3" fill="#a91f2e" stroke="#3a0a10" stroke-width="0.6"/>
<circle cx="272.1" cy="483.5" r="6.3" fill="#a91f2e" stroke="#3a0a10" stroke-width="0.6"/>
<circle cx="287.3" cy="481.6" r="6.3" fill="#a91f2e" stroke="#3a0a10" stroke-width="0.6"/>
<circle cx="302.4" cy="464.2" r="6.3" fill="#a91f2e" stroke="#3a0a10" stroke-width="0.6"/>
<circle cx="317.6" cy="461.8" r="6.3" fill="#a91f2e" stroke="#3a0a10" stroke-width="0.6"/>
<circle cx="332.8" cy="464.2" r="6.3" fill="#a91f2e" stroke="#3a0a10" stroke-width="0.6"/>
<circle cx="348.0" cy="468.9" r="6.3" fill="#a91f2e" stroke="#3a0a10" stroke-width="0.6"/>
<circle cx="363.2" cy="468.9" r="6.3" fill="#a91f2e" stroke="#3a0a10" stroke-width="0.6"/>
<circle cx="378.3" cy="463.7" r="6.3" fill="#a91f2e" stroke="#3a0a10" stroke-width="0.6"/>
<circle cx="393.5" cy="468.4" r="6.3" fill="#a91f2e" stroke="#3a0a10" stroke-width="0.6"/>
<circle cx="408.7" cy="470.3" r="6.3" fill="#a91f2e" stroke="#3a0a10" stroke-width="0.6"/>
<circle cx="423.9" cy="472.2" r="6.3" fill="#a91f2e" stroke="#3a0a10" stroke-width="0.6"/>
<circle cx="439.1" cy="472.7" r="6.3" fill="#a91f2e" stroke="#3a0a10" stroke-width="0.6"/>
<circle cx="454.2" cy="467.5" r="6.3" fill="#a91f2e" stroke="#3a0a10" stroke-width="0.6"/>
<circle cx="469.4" cy="470.8" r="6.3" fill="#a91f2e" stroke="#3a0a10" stroke-width="0.6"/>
<circle cx="484.6" cy="468.9" r="6.3" fill="#a91f2e" stroke="#3a0a10" stroke-width="0.6"/>
<circle cx="499.8" cy="468.0" r="6.3" fill="#a91f2e" stroke="#3a0a10" stroke-width="0.6"/>
<circle cx="515.0" cy="471.7" r="6.3" fill="#a91f2e" stroke="#3a0a10" stroke-width="0.6"/>
<circle cx="530.1" cy="470.3" r="6.3" fill="#a91f2e" stroke="#3a0a10" stroke-width="0.6"/>
<circle cx="545.3" cy="464.7" r="6.3" fill="#a91f2e" stroke="#3a0a10" stroke-width="0.6"/>
<circle cx="560.5" cy="463.2" r="6.3" fill="#a91f2e" stroke="#3a0a10" stroke-width="0.6"/>
<circle cx="575.7" cy="461.8" r="6.3" fill="#a91f2e" stroke="#3a0a10" stroke-width="0.6"/>
<circle cx="590.9" cy="463.2" r="6.3" fill="#a91f2e" stroke="#3a0a10" stroke-width="0.6"/>
<circle cx="606.0" cy="462.3" r="6.3" fill="#a91f2e" stroke="#3a0a10" stroke-width="0.6"/>
<circle cx="621.2" cy="461.8" r="6.3" fill="#a91f2e" stroke="#3a0a10" stroke-width="0.6"/>
<circle cx="636.4" cy="462.8" r="6.3" fill="#a91f2e" stroke="#3a0a10" stroke-width="0.6"/>
<circle cx="651.6" cy="460.4" r="6.3" fill="#a91f2e" stroke="#3a0a10" stroke-width="0.6"/>
<circle cx="666.8" cy="463.7" r="6.3" fill="#a91f2e" stroke="#3a0a10" stroke-width="0.6"/>
<circle cx="681.9" cy="461.8" r="6.3" fill="#a91f2e" stroke="#3a0a10" stroke-width="0.6"/>
<circle cx="697.1" cy="460.4" r="6.3" fill="#a91f2e" stroke="#3a0a10" stroke-width="0.6"/>
<circle cx="712.3" cy="456.2" r="6.3" fill="#a91f2e" stroke="#3a0a10" stroke-width="0.6"/>
<circle cx="727.5" cy="462.3" r="6.3" fill="#a91f2e" stroke="#3a0a10" stroke-width="0.6"/>
<circle cx="742.7" cy="466.1" r="6.3" fill="#a91f2e" stroke="#3a0a10" stroke-width="0.6"/>
<circle cx="757.8" cy="461.8" r="6.3" fill="#a91f2e" stroke="#3a0a10" stroke-width="0.6"/>
<circle cx="773.0" cy="460.4" r="6.3" fill="#a91f2e" stroke="#3a0a10" stroke-width="0.6"/>
<circle cx="788.2" cy="476.9" r="6.3" fill="#a91f2e" stroke="#3a0a10" stroke-width="0.6"/>
<circle cx="803.4" cy="483.5" r="6.3" fill="#a91f2e" stroke="#3a0a10" stroke-width="0.6"/>
<circle cx="818.6" cy="528.3" r="6.3" fill="#a91f2e" stroke="#3a0a10" stroke-width="0.6"/>
<circle cx="833.7" cy="576.8" r="6.3" fill="#a91f2e" stroke="#3a0a10" stroke-width="0.6"/>
<rect x="197.7" y="145.4" width="394.9" height="88.9" fill="none" stroke="#000" stroke-width="2.5"/>
<line x1="212.0" y1="168.8" x2="283.8" y2="168.8" stroke="#595959" stroke-width="3.4"/>
<polygon points="247.80,160.90 255.98,166.84 252.85,176.46 242.75,176.46 239.62,166.84" fill="#2f6aa0" stroke="none" stroke-width="0"/>
<text x="296.0" y="177.0" font-size="27.3" text-anchor="start" fill="#000">Crawling</text>
<line x1="212.0" y1="207.2" x2="283.8" y2="207.2" stroke="#000" stroke-width="4.4"/>
<circle cx="247.8" cy="207.2" r="7.3" fill="#a5001f" stroke="none" stroke-width="0"/>
<text x="297.0" y="215.6" font-size="27.3" text-anchor="start" fill="#000">Single wheel steering</text>
<rect x="1019.5" y="119.0" width="712.3" height="573.2" fill="none" stroke="#000" stroke-width="2.4"/>
<line x1="1063.4" y1="692.2" x2="1063.4" y2="682.2" stroke="#000" stroke-width="2.2"/>
<line x1="1063.4" y1="119.0" x2="1063.4" y2="129.0" stroke="#000" stroke-width="2.2"/>
<text x="1063.4" y="727.5" font-size="30" text-anchor="middle" font-weight="bold" fill="#000">0</text>
<line x1="1197.1" y1="692.2" x2="1197.1" y2="682.2" stroke="#000" stroke-width="2.2"/>
<line x1="1197.1" y1="119.0" x2="1197.1" y2="129.0" stroke="#000" stroke-width="2.2"/>
<text x="1197.1" y="727.5" font-size="30" text-anchor="middle" font-weight="bold" fill="#000">3</text>
<line x1="1330.8" y1="692.2" x2="1330.8" y2="682.2" stroke="#000" stroke-width="2.2"/>
<line x1="1330.8" y1="119.0" x2="1330.8" y2="129.0" stroke="#000" stroke-width="2.2"/>
<text x="1330.8" y="727.5" font-size="30" text-anchor="middle" font-weight="bold" fill="#000">6</text>
<line x1="1464.4" y1="692.2" x2="1464.4" y2="682.2" stroke="#000" stroke-width="2.2"/>
<line x1="1464.4" y1="119.0" x2="1464.4" y2="129.0" stroke="#000" stroke-width="2.2"/>
<text x="1464.4" y="727.5" font-size="30" text-anchor="middle" font-weight="bold" fill="#000">9</text>
<line x1="1598.1" y1="692.2" x2="1598.1" y2="682.2" stroke="#000" stroke-width="2.2"/>
<line x1="1598.1" y1="119.0" x2="1598.1" y2="129.0" stroke="#000" stroke-width="2.2"/>
<text x="1598.1" y="727.5" font-size="30" text-anchor="middle" font-weight="bold" fill="#000">12</text>
<text x="1731.8" y="727.5" font-size="30" text-anchor="middle" font-weight="bold" fill="#000">15</text>
<line x1="1130.2" y1="692.2" x2="1130.2" y2="687.2" stroke="#000" stroke-width="2.2"/>
<line x1="1263.9" y1="692.2" x2="1263.9" y2="687.2" stroke="#000" stroke-width="2.2"/>
<line x1="1397.6" y1="692.2" x2="1397.6" y2="687.2" stroke="#000" stroke-width="2.2"/>
<line x1="1531.3" y1="692.2" x2="1531.3" y2="687.2" stroke="#000" stroke-width="2.2"/>
<line x1="1665.0" y1="692.2" x2="1665.0" y2="687.2" stroke="#000" stroke-width="2.2"/>
<line x1="1019.5" y1="669.8" x2="1030.0" y2="669.8" stroke="#000" stroke-width="2.2"/>
<line x1="1731.8" y1="669.8" x2="1721.3" y2="669.8" stroke="#000" stroke-width="2.2"/>
<text x="1006.5" y="678.3" font-size="30" text-anchor="end" font-weight="bold" fill="#000">0</text>
<line x1="1019.5" y1="559.6" x2="1030.0" y2="559.6" stroke="#000" stroke-width="2.2"/>
<line x1="1731.8" y1="559.6" x2="1721.3" y2="559.6" stroke="#000" stroke-width="2.2"/>
<text x="1006.5" y="568.1" font-size="30" text-anchor="end" font-weight="bold" fill="#000">1</text>
<line x1="1019.5" y1="449.4" x2="1030.0" y2="449.4" stroke="#000" stroke-width="2.2"/>
<line x1="1731.8" y1="449.4" x2="1721.3" y2="449.4" stroke="#000" stroke-width="2.2"/>
<text x="1006.5" y="457.9" font-size="30" text-anchor="end" font-weight="bold" fill="#000">2</text>
<line x1="1019.5" y1="339.2" x2="1030.0" y2="339.2" stroke="#000" stroke-width="2.2"/>
<line x1="1731.8" y1="339.2" x2="1721.3" y2="339.2" stroke="#000" stroke-width="2.2"/>
<text x="1006.5" y="347.7" font-size="30" text-anchor="end" font-weight="bold" fill="#000">3</text>
<line x1="1019.5" y1="229.0" x2="1030.0" y2="229.0" stroke="#000" stroke-width="2.2"/>
<line x1="1731.8" y1="229.0" x2="1721.3" y2="229.0" stroke="#000" stroke-width="2.2"/>
<text x="1006.5" y="237.5" font-size="30" text-anchor="end" font-weight="bold" fill="#000">4</text>
<text x="1006.5" y="127.3" font-size="30" text-anchor="end" font-weight="bold" fill="#000">5</text>
<line x1="1019.5" y1="614.7" x2="1024.5" y2="614.7" stroke="#000" stroke-width="2.2"/>
<line x1="1019.5" y1="504.5" x2="1024.5" y2="504.5" stroke="#000" stroke-width="2.2"/>
<line x1="1019.5" y1="394.3" x2="1024.5" y2="394.3" stroke="#000" stroke-width="2.2"/>
<line x1="1019.5" y1="284.1" x2="1024.5" y2="284.1" stroke="#000" stroke-width="2.2"/>
<line x1="1019.5" y1="173.9" x2="1024.5" y2="173.9" stroke="#000" stroke-width="2.2"/>
<text x="977.5" y="405.0" font-size="32.5" text-anchor="middle" transform="rotate(-90 977.5 405.0)" fill="#000">Power (W)</text>
<text x="1375.0" y="768.0" font-size="32.5" text-anchor="middle" fill="#000">Time (S)</text>
<polyline points="1063.40,669.80 1064.14,649.80 1064.89,629.84 1065.63,609.97 1066.37,590.21 1067.11,570.63 1067.86,551.24 1068.60,532.10 1069.34,513.25 1070.08,494.73 1070.83,476.57 1071.57,458.82 1072.31,441.53 1073.05,424.73 1073.80,408.45 1074.54,392.76 1075.28,377.67 1076.03,363.24 1076.77,349.51 1077.51,336.52 1078.25,324.30 1079.00,312.90 1079.74,302.37 1080.48,292.73 1081.22,284.04 1081.97,276.33 1082.71,269.64 1083.45,264.02 1084.19,259.50 1084.94,256.13 1085.68,253.95 1086.42,252.98 1087.17,253.17 1087.91,254.47 1088.65,256.79 1089.39,260.08 1090.14,264.27 1090.88,269.30 1091.62,275.11 1092.36,281.61 1093.11,288.76 1093.85,296.49 1094.59,304.72 1095.33,313.40 1096.08,322.46 1096.82,331.83 1097.56,341.45 1098.31,351.25 1099.05,361.17 1099.79,371.15 1100.53,381.11 1101.28,390.99 1102.02,400.74 1102.76,410.27 1103.50,419.52 1104.25,428.44 1104.99,436.96 1105.73,445.00 1106.47,452.51 1107.22,459.41 1107.96,465.66 1108.70,471.18 1109.45,476.01 1110.19,480.16 1110.93,483.69 1111.67,486.60 1112.42,488.94 1113.16,490.74 1113.90,492.03 1114.64,492.83 1115.39,493.19 1116.13,493.14 1116.87,492.69 1117.61,491.90 1118.36,490.78 1119.10,489.37 1119.84,487.71 1120.59,485.81 1121.33,483.72 1122.07,481.46 1122.81,479.07 1123.56,476.58 1124.30,474.02 1125.04,471.42 1125.78,468.82 1126.53,466.23 1127.27,463.71 1128.01,461.27 1128.75,458.95 1129.50,456.78 1130.24,454.79 1130.98,453.00 1131.73,451.43 1132.47,450.04 1133.21,448.84 1133.95,447.82 1134.70,446.97 1135.44,446.27 1136.18,445.73 1136.92,445.32 1137.67,445.05 1138.41,444.89 1139.15,444.85 1139.89,444.91 1140.64,445.07 1141.38,445.31 1142.12,445.62 1142.87,446.01 1143.61,446.45 1144.35,446.94 1145.09,447.47 1145.84,448.03 1146.58,448.61 1147.32,449.20 1148.06,449.79 1148.81,450.38 1149.55,450.95 1150.29,451.50 1151.03,452.01 1151.78,452.48 1152.52,452.90 1153.26,453.25 1154.01,453.55 1154.75,453.79 1155.49,453.98 1156.23,454.11 1156.98,454.18 1157.72,454.21 1158.46,454.19 1159.20,454.12 1159.95,454.00 1160.69,453.84 1161.43,453.64 1162.17,453.40 1162.92,453.12 1163.66,452.80 1164.40,452.45 1165.15,452.07 1165.89,451.65 1166.63,451.20 1167.37,450.73 1168.12,450.23 1168.86,449.71 1169.60,449.16 1170.34,448.60 1171.09,448.01 1171.83,447.41 1172.57,446.79 1173.31,446.16 1174.06,445.52 1174.80,444.86 1175.54,444.20 1176.29,443.53 1177.03,442.86 1177.77,442.19 1178.51,441.51 1179.26,440.84 1180.00,440.16 1180.74,439.50 1181.48,438.84 1182.23,438.18 1182.97,437.54 1183.71,436.91 1184.45,436.30 1185.20,435.70 1185.94,435.11 1186.68,434.55 1187.43,434.01 1188.17,433.49 1188.91,433.00 1189.65,432.53 1190.40,432.09 1191.14,431.68 1191.88,431.31 1192.62,430.97 1193.37,430.66 1194.11,430.39 1194.85,430.17 1195.59,429.98 1196.34,429.84 1197.08,429.74 1197.82,429.69 1198.57,429.68 1199.31,429.72 1200.05,429.78 1200.79,429.88 1201.54,430.01 1202.28,430.16 1203.02,430.34 1203.76,430.53 1204.51,430.73 1205.25,430.94 1205.99,431.16 1206.73,431.38 1207.48,431.59 1208.22,431.80 1208.96,432.00 1209.71,432.19 1210.45,432.36 1211.19,432.51 1211.93,432.63 1212.68,432.72 1213.42,432.78 1214.16,432.81 1214.90,432.79 1215.65,432.73 1216.39,432.62 1217.13,432.46 1217.87,432.25 1218.62,431.97 1219.36,431.63 1220.10,431.23 1220.85,430.76 1221.59,430.23 1222.33,429.65 1223.07,429.02 1223.82,428.33 1224.56,427.60 1225.30,426.84 1226.04,426.03 1226.79,425.19 1227.53,424.32 1228.27,423.42 1229.01,422.51 1229.76,421.57 1230.50,420.62 1231.24,419.65 1231.99,418.68 1232.73,417.71 1233.47,416.73 1234.21,415.76 1234.96,414.80 1235.70,413.84 1236.44,412.91 1237.18,411.99 1237.93,411.09 1238.67,410.22 1239.41,409.37 1240.15,408.56 1240.90,407.79 1241.64,407.06 1242.38,406.37 1243.13,405.73 1243.87,405.12 1244.61,404.57 1245.35,404.05 1246.10,403.57 1246.84,403.13 1247.58,402.73 1248.32,402.37 1249.07,402.05 1249.81,401.77 1250.55,401.52 1251.29,401.30 1252.04,401.12 1252.78,400.98 1253.52,400.86 1254.27,400.78 1255.01,400.73 1255.75,400.72 1256.49,400.73 1257.24,400.77 1257.98,400.84 1258.72,400.94 1259.46,401.06 1260.21,401.21 1260.95,401.39 1261.69,401.59 1262.43,401.81 1263.18,402.06 1263.92,402.33 1264.66,402.63 1265.41,402.94 1266.15,403.27 1266.89,403.62 1267.63,403.99 1268.38,404.37 1269.12,404.76 1269.86,405.16 1270.60,405.58 1271.35,406.00 1272.09,406.43 1272.83,406.87 1273.57,407.31 1274.32,407.76 1275.06,408.21 1275.80,408.65 1276.55,409.10 1277.29,409.54 1278.03,409.98 1278.77,410.42 1279.52,410.84 1280.26,411.26 1281.00,411.67 1281.74,412.07 1282.49,412.46 1283.23,412.83 1283.97,413.18 1284.71,413.52 1285.46,413.85 1286.20,414.15 1286.94,414.43 1287.69,414.69 1288.43,414.92 1289.17,415.14 1289.91,415.33 1290.66,415.50 1291.40,415.65 1292.14,415.77 1292.88,415.87 1293.63,415.94 1294.37,415.99 1295.11,416.02 1295.85,416.02 1296.60,415.99 1297.34,415.94 1298.08,415.86 1298.83,415.76 1299.57,415.62 1300.31,415.46 1301.05,415.28 1301.80,415.06 1302.54,414.81 1303.28,414.54 1304.02,414.24 1304.77,413.90 1305.51,413.54 1306.25,413.15 1306.99,412.73 1307.74,412.27 1308.48,411.78 1309.22,411.27 1309.97,410.72 1310.71,410.15 1311.45,409.56 1312.19,408.94 1312.94,408.31 1313.68,407.67 1314.42,407.01 1315.16,406.35 1315.91,405.69 1316.65,405.02 1317.39,404.35 1318.13,403.69 1318.88,403.04 1319.62,402.40 1320.36,401.77 1321.11,401.16 1321.85,400.57 1322.59,400.01 1323.33,399.47 1324.08,398.96 1324.82,398.48 1325.56,398.04 1326.30,397.63 1327.05,397.27 1327.79,396.95 1328.53,396.68 1329.27,396.46 1330.02,396.30 1330.76,396.19 1331.50,396.14 1332.25,396.15 1332.99,396.20 1333.73,396.31 1334.47,396.46 1335.22,396.65 1335.96,396.87 1336.70,397.13 1337.44,397.41 1338.19,397.71 1338.93,398.04 1339.67,398.38 1340.41,398.73 1341.16,399.08 1341.90,399.44 1342.64,399.80 1343.39,400.15 1344.13,400.49 1344.87,400.82 1345.61,401.13 1346.36,401.42 1347.10,401.68 1347.84,401.91 1348.58,402.11 1349.33,402.27 1350.07,402.38 1350.81,402.45 1351.55,402.47 1352.30,402.43 1353.04,402.33 1353.78,402.18 1354.53,401.96 1355.27,401.68 1356.01,401.35 1356.75,400.97 1357.50,400.54 1358.24,400.06 1358.98,399.55 1359.72,398.99 1360.47,398.40 1361.21,397.77 1361.95,397.11 1362.69,396.43 1363.44,395.72 1364.18,394.99 1364.92,394.24 1365.67,393.47 1366.41,392.69 1367.15,391.90 1367.89,391.11 1368.64,390.31 1369.38,389.51 1370.12,388.71 1370.86,387.92 1371.61,387.13 1372.35,386.36 1373.09,385.60 1373.83,384.86 1374.58,384.13 1375.32,383.43 1376.06,382.76 1376.81,382.10 1377.55,381.47 1378.29,380.86 1379.03,380.26 1379.78,379.68 1380.52,379.10 1381.26,378.54 1382.00,377.98 1382.75,377.42 1383.49,376.86 1384.23,376.31 1384.97,375.74 1385.72,375.18 1386.46,374.60 1387.20,374.01 1387.95,373.40 1388.69,372.78 1389.43,372.14 1390.17,371.48 1390.92,370.80 1391.66,370.08 1392.40,369.34 1393.14,368.57 1393.89,367.76 1394.63,366.91 1395.37,366.03 1396.11,365.10 1396.86,364.13 1397.60,363.11 1398.34,362.05 1399.09,360.94 1399.83,359.79 1400.57,358.61 1401.31,357.40 1402.06,356.18 1402.80,354.94 1403.54,353.69 1404.28,352.44 1405.03,351.19 1405.77,349.95 1406.51,348.72 1407.25,347.51 1408.00,346.33 1408.74,345.19 1409.48,344.07 1410.23,343.01 1410.97,341.99 1411.71,341.02 1412.45,340.12 1413.20,339.28 1413.94,338.52 1414.68,337.83 1415.42,337.23 1416.17,336.72 1416.91,336.30 1417.65,335.99 1418.39,335.78 1419.14,335.68 1419.88,335.70 1420.62,335.85 1421.37,336.11 1422.11,336.47 1422.85,336.92 1423.59,337.46 1424.34,338.06 1425.08,338.73 1425.82,339.45 1426.56,340.21 1427.31,341.00 1428.05,341.80 1428.79,342.62 1429.53,343.43 1430.28,344.23 1431.02,345.00 1431.76,345.74 1432.51,346.44 1433.25,347.08 1433.99,347.65 1434.73,348.15 1435.48,348.56 1436.22,348.87 1436.96,349.07 1437.70,349.16 1438.45,349.11 1439.19,348.93 1439.93,348.59 1440.67,348.09 1441.42,347.42 1442.16,346.57 1442.90,345.53 1443.65,344.31 1444.39,342.91 1445.13,341.35 1445.87,339.64 1446.62,337.80 1447.36,335.82 1448.10,333.72 1448.84,331.52 1449.59,329.21 1450.33,326.82 1451.07,324.36 1451.81,321.83 1452.56,319.24 1453.30,316.61 1454.04,313.94 1454.79,311.25 1455.53,308.55 1456.27,305.85 1457.01,303.15 1457.76,300.47 1458.50,297.83 1459.24,295.22 1459.98,292.67 1460.73,290.17 1461.47,287.75 1462.21,285.41 1462.95,283.17 1463.70,281.02 1464.44,279.00 1465.18,277.09 1465.93,275.31 1466.67,273.64 1467.41,272.08 1468.15,270.63 1468.90,269.28 1469.64,268.02 1470.38,266.86 1471.12,265.78 1471.87,264.78 1472.61,263.86 1473.35,263.01 1474.09,262.23 1474.84,261.51 1475.58,260.84 1476.32,260.23 1477.07,259.67 1477.81,259.15 1478.55,258.66 1479.29,258.21 1480.04,257.79 1480.78,257.39 1481.52,257.01 1482.26,256.64 1483.01,256.27 1483.75,255.92 1484.49,255.56 1485.23,255.19 1485.98,254.82 1486.72,254.42 1487.46,254.01 1488.21,253.58 1488.95,253.13 1489.69,252.66 1490.43,252.18 1491.18,251.69 1491.92,251.18 1492.66,250.67 1493.40,250.14 1494.15,249.61 1494.89,249.07 1495.63,248.53 1496.37,247.98 1497.12,247.44 1497.86,246.89 1498.60,246.35 1499.35,245.81 1500.09,245.27 1500.83,244.74 1501.57,244.22 1502.32,243.71 1503.06,243.21 1503.80,242.72 1504.54,242.24 1505.29,241.78 1506.03,241.34 1506.77,240.92 1507.51,240.52 1508.26,240.13 1509.00,239.77 1509.74,239.44 1510.49,239.13 1511.23,238.84 1511.97,238.58 1512.71,238.34 1513.46,238.11 1514.20,237.92 1514.94,237.74 1515.68,237.58 1516.43,237.44 1517.17,237.32 1517.91,237.22 1518.65,237.13 1519.40,237.07 1520.14,237.02 1520.88,236.98 1521.63,236.97 1522.37,236.96 1523.11,236.97 1523.85,237.00 1524.60,237.04 1525.34,237.09 1526.08,237.15 1526.82,237.23 1527.57,237.31 1528.31,237.41 1529.05,237.51 1529.79,237.63 1530.54,237.75 1531.28,237.88 1532.02,238.02 1532.77,238.17 1533.51,238.31 1534.25,238.46 1534.99,238.60 1535.74,238.74 1536.48,238.87 1537.22,238.98 1537.96,239.09 1538.71,239.17 1539.45,239.24 1540.19,239.28 1540.93,239.30 1541.68,239.29 1542.42,239.25 1543.16,239.18 1543.91,239.07 1544.65,238.92 1545.39,238.74 1546.13,238.50 1546.88,238.22 1547.62,237.90 1548.36,237.51 1549.10,237.08 1549.85,236.58 1550.59,236.03 1551.33,235.41 1552.07,234.73 1552.82,233.98 1553.56,233.16 1554.30,232.27 1555.05,231.32 1555.79,230.33 1556.53,229.32 1557.27,228.31 1558.02,227.32 1558.76,226.36 1559.50,225.44 1560.24,224.60 1560.99,223.85 1561.73,223.20 1562.47,222.67 1563.21,222.28 1563.96,222.05 1564.70,222.00 1565.44,222.14 1566.19,222.49 1566.93,223.07 1567.67,223.90 1568.41,224.99 1569.16,226.36 1569.90,228.04 1570.64,230.04 1571.38,232.37 1572.13,235.05 1572.87,238.11 1573.61,241.56 1574.35,245.42 1575.10,249.70 1575.84,254.42 1576.58,259.60 1577.33,265.22 1578.07,271.25 1578.81,277.67 1579.55,284.46 1580.30,291.59 1581.04,299.04 1581.78,306.78 1582.52,314.79 1583.27,323.05 1584.01,331.54 1584.75,340.22 1585.49,349.08 1586.24,358.09 1586.98,367.23 1587.72,376.47 1588.47,385.79 1589.21,395.17 1589.95,404.59 1590.69,414.01 1591.44,423.41 1592.18,432.78 1592.92,442.08 1593.66,451.30 1594.41,460.41 1595.15,469.38 1595.89,478.20 1596.63,486.83 1597.38,495.26 1598.12,503.46 1598.86,511.41 1599.61,519.12 1600.35,526.59 1601.09,533.83 1601.83,540.85 1602.58,547.67 1603.32,554.28 1604.06,560.69 1604.80,566.92 1605.55,572.97 1606.29,578.86 1607.03,584.58 1607.77,590.15 1608.52,595.58 1609.26,600.87 1610.00,606.04 1610.75,611.09 1611.49,616.02 1612.23,620.86 1612.97,625.61 1613.72,630.27 1614.46,634.85 1615.20,639.37 1615.94,643.82 1616.69,648.23 1617.43,652.59 1618.17,656.93 1618.91,661.23 1619.66,665.52 1620.40,669.80" fill="none" stroke="#000" stroke-width="3.0" stroke-linejoin="round"/>
<circle cx="1063.4" cy="669.8" r="6.2" fill="#8a00f5" stroke="none" stroke-width="0"/>
<circle cx="1085.7" cy="254.0" r="6.2" fill="#8a00f5" stroke="none" stroke-width="0"/>
<circle cx="1108.0" cy="465.7" r="6.2" fill="#8a00f5" stroke="none" stroke-width="0"/>
<circle cx="1130.2" cy="454.8" r="6.2" fill="#8a00f5" stroke="none" stroke-width="0"/>
<circle cx="1152.5" cy="452.9" r="6.2" fill="#8a00f5" stroke="none" stroke-width="0"/>
<circle cx="1174.8" cy="444.9" r="6.2" fill="#8a00f5" stroke="none" stroke-width="0"/>
<circle cx="1197.1" cy="429.7" r="6.2" fill="#8a00f5" stroke="none" stroke-width="0"/>
<circle cx="1219.4" cy="431.6" r="6.2" fill="#8a00f5" stroke="none" stroke-width="0"/>
<circle cx="1241.6" cy="407.1" r="6.2" fill="#8a00f5" stroke="none" stroke-width="0"/>
<circle cx="1263.9" cy="402.3" r="6.2" fill="#8a00f5" stroke="none" stroke-width="0"/>
<circle cx="1286.2" cy="414.1" r="6.2" fill="#8a00f5" stroke="none" stroke-width="0"/>
<circle cx="1308.5" cy="411.8" r="6.2" fill="#8a00f5" stroke="none" stroke-width="0"/>
<circle cx="1330.8" cy="396.2" r="6.2" fill="#8a00f5" stroke="none" stroke-width="0"/>
<circle cx="1353.0" cy="402.3" r="6.2" fill="#8a00f5" stroke="none" stroke-width="0"/>
<circle cx="1375.3" cy="383.4" r="6.2" fill="#8a00f5" stroke="none" stroke-width="0"/>
<circle cx="1397.6" cy="363.1" r="6.2" fill="#8a00f5" stroke="none" stroke-width="0"/>
<circle cx="1419.9" cy="335.7" r="6.2" fill="#8a00f5" stroke="none" stroke-width="0"/>
<circle cx="1442.2" cy="346.6" r="6.2" fill="#8a00f5" stroke="none" stroke-width="0"/>
<circle cx="1464.4" cy="279.0" r="6.2" fill="#8a00f5" stroke="none" stroke-width="0"/>
<circle cx="1486.7" cy="254.4" r="6.2" fill="#8a00f5" stroke="none" stroke-width="0"/>
<circle cx="1509.0" cy="239.8" r="6.2" fill="#8a00f5" stroke="none" stroke-width="0"/>
<circle cx="1531.3" cy="237.9" r="6.2" fill="#8a00f5" stroke="none" stroke-width="0"/>
<circle cx="1553.6" cy="233.2" r="6.2" fill="#8a00f5" stroke="none" stroke-width="0"/>
<circle cx="1575.8" cy="254.4" r="6.2" fill="#8a00f5" stroke="none" stroke-width="0"/>
<circle cx="1598.1" cy="503.5" r="6.2" fill="#8a00f5" stroke="none" stroke-width="0"/>
<circle cx="1620.4" cy="669.8" r="6.2" fill="#8a00f5" stroke="none" stroke-width="0"/>
<rect x="1852.0" y="159.1" width="577.1" height="50.4" fill="#c2dcae" stroke="none" stroke-width="0"/>
<rect x="1852.0" y="209.5" width="244.5" height="49.6" fill="#98d5f0" stroke="none" stroke-width="0"/>
<rect x="1852.0" y="259.1" width="635.8" height="49.7" fill="#ebc093" stroke="none" stroke-width="0"/>
<text x="2448.1" y="192.1" font-size="27" text-anchor="start" fill="#000">210.67Min</text>
<text x="2116.8" y="244.7" font-size="27" text-anchor="start" fill="#000">0.18W</text>
<text x="2499.3" y="293.3" font-size="27" text-anchor="start" fill="#000">732.6J</text>
<text x="1827.0" y="234.6" font-size="27" text-anchor="middle" transform="rotate(-90 1827.0 234.6)" fill="#000">Steering</text>
<rect x="1852.0" y="344.7" width="534.2" height="50.4" fill="#c2dcae" stroke="none" stroke-width="0"/>
<rect x="1852.0" y="395.1" width="285.5" height="49.6" fill="#98d5f0" stroke="none" stroke-width="0"/>
<rect x="1852.0" y="444.7" width="635.8" height="49.7" fill="#ebc093" stroke="none" stroke-width="0"/>
<text x="2405.2" y="377.7" font-size="27" text-anchor="start" fill="#000">84.79Min</text>
<text x="2157.8" y="430.3" font-size="27" text-anchor="start" fill="#000">0.43W</text>
<text x="2499.3" y="478.9" font-size="27" text-anchor="start" fill="#000">732.6J</text>
<text x="1827.0" y="420.2" font-size="27" text-anchor="middle" transform="rotate(-90 1827.0 420.2)" fill="#000">Crawling</text>
<rect x="1852.0" y="530.3" width="449.0" height="50.4" fill="#c2dcae" stroke="none" stroke-width="0"/>
<rect x="1852.0" y="580.7" width="370.9" height="49.6" fill="#98d5f0" stroke="none" stroke-width="0"/>
<rect x="1852.0" y="630.3" width="635.8" height="49.7" fill="#ebc093" stroke="none" stroke-width="0"/>
<text x="2320.0" y="563.3" font-size="27" text-anchor="start" fill="#000">13.87Min</text>
<text x="2243.2" y="615.9" font-size="27" text-anchor="start" fill="#000">2.64W</text>
<text x="2499.3" y="664.5" font-size="27" text-anchor="start" fill="#000">732.6J</text>
<text x="1827.0" y="605.8" font-size="27" text-anchor="middle" transform="rotate(-90 1827.0 605.8)" fill="#000">Jumping</text>
<line x1="1852.0" y1="326.2" x2="2610.8" y2="326.2" stroke="#b8b8b8" stroke-width="1.0" stroke-dasharray="3,3"/>
<line x1="1852.0" y1="512.2" x2="2610.8" y2="512.2" stroke="#b8b8b8" stroke-width="1.0" stroke-dasharray="3,3"/>
<rect x="1852.0" y="140.6" width="758.8" height="557.3" fill="none" stroke="#000" stroke-width="2.6"/>
<line x1="1884.6" y1="697.9" x2="1884.6" y2="693.7" stroke="#000" stroke-width="2.2"/>
<line x1="1903.7" y1="697.9" x2="1903.7" y2="693.7" stroke="#000" stroke-width="2.2"/>
<line x1="1917.3" y1="697.9" x2="1917.3" y2="693.7" stroke="#000" stroke-width="2.2"/>
<line x1="1927.8" y1="697.9" x2="1927.8" y2="693.7" stroke="#000" stroke-width="2.2"/>
<line x1="1936.4" y1="697.9" x2="1936.4" y2="693.7" stroke="#000" stroke-width="2.2"/>
<line x1="1943.6" y1="697.9" x2="1943.6" y2="693.7" stroke="#000" stroke-width="2.2"/>
<line x1="1949.9" y1="697.9" x2="1949.9" y2="693.7" stroke="#000" stroke-width="2.2"/>
<line x1="1955.4" y1="697.9" x2="1955.4" y2="693.7" stroke="#000" stroke-width="2.2"/>
<text x="1852.0" y="738.5" font-size="29.5" font-weight="bold" text-anchor="middle">10<tspan font-size="22" dy="-12.5">-3</tspan></text>
<line x1="1960.4" y1="697.9" x2="1960.4" y2="688.4" stroke="#000" stroke-width="2.2"/>
<line x1="1960.4" y1="140.6" x2="1960.4" y2="150.6" stroke="#000" stroke-width="2.2"/>
<line x1="1993.0" y1="697.9" x2="1993.0" y2="693.7" stroke="#000" stroke-width="2.2"/>
<line x1="2012.1" y1="697.9" x2="2012.1" y2="693.7" stroke="#000" stroke-width="2.2"/>
<line x1="2025.7" y1="697.9" x2="2025.7" y2="693.7" stroke="#000" stroke-width="2.2"/>
<line x1="2036.2" y1="697.9" x2="2036.2" y2="693.7" stroke="#000" stroke-width="2.2"/>
<line x1="2044.8" y1="697.9" x2="2044.8" y2="693.7" stroke="#000" stroke-width="2.2"/>
<line x1="2052.0" y1="697.9" x2="2052.0" y2="693.7" stroke="#000" stroke-width="2.2"/>
<line x1="2058.3" y1="697.9" x2="2058.3" y2="693.7" stroke="#000" stroke-width="2.2"/>
<line x1="2063.8" y1="697.9" x2="2063.8" y2="693.7" stroke="#000" stroke-width="2.2"/>
<text x="1960.4" y="738.5" font-size="29.5" font-weight="bold" text-anchor="middle">10<tspan font-size="22" dy="-12.5">-2</tspan></text>
<line x1="2068.8" y1="697.9" x2="2068.8" y2="688.4" stroke="#000" stroke-width="2.2"/>
<line x1="2068.8" y1="140.6" x2="2068.8" y2="150.6" stroke="#000" stroke-width="2.2"/>
<line x1="2101.4" y1="697.9" x2="2101.4" y2="693.7" stroke="#000" stroke-width="2.2"/>
<line x1="2120.5" y1="697.9" x2="2120.5" y2="693.7" stroke="#000" stroke-width="2.2"/>
<line x1="2134.1" y1="697.9" x2="2134.1" y2="693.7" stroke="#000" stroke-width="2.2"/>
<line x1="2144.6" y1="697.9" x2="2144.6" y2="693.7" stroke="#000" stroke-width="2.2"/>
<line x1="2153.2" y1="697.9" x2="2153.2" y2="693.7" stroke="#000" stroke-width="2.2"/>
<line x1="2160.4" y1="697.9" x2="2160.4" y2="693.7" stroke="#000" stroke-width="2.2"/>
<line x1="2166.7" y1="697.9" x2="2166.7" y2="693.7" stroke="#000" stroke-width="2.2"/>
<line x1="2172.2" y1="697.9" x2="2172.2" y2="693.7" stroke="#000" stroke-width="2.2"/>
<text x="2068.8" y="738.5" font-size="29.5" font-weight="bold" text-anchor="middle">10<tspan font-size="22" dy="-12.5">-1</tspan></text>
<line x1="2177.2" y1="697.9" x2="2177.2" y2="688.4" stroke="#000" stroke-width="2.2"/>
<line x1="2177.2" y1="140.6" x2="2177.2" y2="150.6" stroke="#000" stroke-width="2.2"/>
<line x1="2209.8" y1="697.9" x2="2209.8" y2="693.7" stroke="#000" stroke-width="2.2"/>
<line x1="2228.9" y1="697.9" x2="2228.9" y2="693.7" stroke="#000" stroke-width="2.2"/>
<line x1="2242.5" y1="697.9" x2="2242.5" y2="693.7" stroke="#000" stroke-width="2.2"/>
<line x1="2253.0" y1="697.9" x2="2253.0" y2="693.7" stroke="#000" stroke-width="2.2"/>
<line x1="2261.6" y1="697.9" x2="2261.6" y2="693.7" stroke="#000" stroke-width="2.2"/>
<line x1="2268.8" y1="697.9" x2="2268.8" y2="693.7" stroke="#000" stroke-width="2.2"/>
<line x1="2275.1" y1="697.9" x2="2275.1" y2="693.7" stroke="#000" stroke-width="2.2"/>
<line x1="2280.6" y1="697.9" x2="2280.6" y2="693.7" stroke="#000" stroke-width="2.2"/>
<text x="2177.2" y="738.5" font-size="29.5" font-weight="bold" text-anchor="middle">10<tspan font-size="22" dy="-12.5">0</tspan></text>
<line x1="2285.6" y1="697.9" x2="2285.6" y2="688.4" stroke="#000" stroke-width="2.2"/>
<line x1="2285.6" y1="140.6" x2="2285.6" y2="150.6" stroke="#000" stroke-width="2.2"/>
<line x1="2318.2" y1="697.9" x2="2318.2" y2="693.7" stroke="#000" stroke-width="2.2"/>
<line x1="2337.3" y1="697.9" x2="2337.3" y2="693.7" stroke="#000" stroke-width="2.2"/>
<line x1="2350.9" y1="697.9" x2="2350.9" y2="693.7" stroke="#000" stroke-width="2.2"/>
<line x1="2361.4" y1="697.9" x2="2361.4" y2="693.7" stroke="#000" stroke-width="2.2"/>
<line x1="2370.0" y1="697.9" x2="2370.0" y2="693.7" stroke="#000" stroke-width="2.2"/>
<line x1="2377.2" y1="697.9" x2="2377.2" y2="693.7" stroke="#000" stroke-width="2.2"/>
<line x1="2383.5" y1="697.9" x2="2383.5" y2="693.7" stroke="#000" stroke-width="2.2"/>
<line x1="2389.0" y1="697.9" x2="2389.0" y2="693.7" stroke="#000" stroke-width="2.2"/>
<text x="2285.6" y="738.5" font-size="29.5" font-weight="bold" text-anchor="middle">10<tspan font-size="22" dy="-12.5">1</tspan></text>
<line x1="2394.0" y1="697.9" x2="2394.0" y2="688.4" stroke="#000" stroke-width="2.2"/>
<line x1="2394.0" y1="140.6" x2="2394.0" y2="150.6" stroke="#000" stroke-width="2.2"/>
<line x1="2426.6" y1="697.9" x2="2426.6" y2="693.7" stroke="#000" stroke-width="2.2"/>
<line x1="2445.7" y1="697.9" x2="2445.7" y2="693.7" stroke="#000" stroke-width="2.2"/>
<line x1="2459.3" y1="697.9" x2="2459.3" y2="693.7" stroke="#000" stroke-width="2.2"/>
<line x1="2469.8" y1="697.9" x2="2469.8" y2="693.7" stroke="#000" stroke-width="2.2"/>
<line x1="2478.4" y1="697.9" x2="2478.4" y2="693.7" stroke="#000" stroke-width="2.2"/>
<line x1="2485.6" y1="697.9" x2="2485.6" y2="693.7" stroke="#000" stroke-width="2.2"/>
<line x1="2491.9" y1="697.9" x2="2491.9" y2="693.7" stroke="#000" stroke-width="2.2"/>
<line x1="2497.4" y1="697.9" x2="2497.4" y2="693.7" stroke="#000" stroke-width="2.2"/>
<text x="2394.0" y="738.5" font-size="29.5" font-weight="bold" text-anchor="middle">10<tspan font-size="22" dy="-12.5">2</tspan></text>
<line x1="2502.4" y1="697.9" x2="2502.4" y2="688.4" stroke="#000" stroke-width="2.2"/>
<line x1="2502.4" y1="140.6" x2="2502.4" y2="150.6" stroke="#000" stroke-width="2.2"/>
<line x1="2535.0" y1="697.9" x2="2535.0" y2="693.7" stroke="#000" stroke-width="2.2"/>
<line x1="2554.1" y1="697.9" x2="2554.1" y2="693.7" stroke="#000" stroke-width="2.2"/>
<line x1="2567.7" y1="697.9" x2="2567.7" y2="693.7" stroke="#000" stroke-width="2.2"/>
<line x1="2578.2" y1="697.9" x2="2578.2" y2="693.7" stroke="#000" stroke-width="2.2"/>
<line x1="2586.8" y1="697.9" x2="2586.8" y2="693.7" stroke="#000" stroke-width="2.2"/>
<line x1="2594.0" y1="697.9" x2="2594.0" y2="693.7" stroke="#000" stroke-width="2.2"/>
<line x1="2600.3" y1="697.9" x2="2600.3" y2="693.7" stroke="#000" stroke-width="2.2"/>
<line x1="2605.8" y1="697.9" x2="2605.8" y2="693.7" stroke="#000" stroke-width="2.2"/>
<text x="2502.4" y="738.5" font-size="29.5" font-weight="bold" text-anchor="middle">10<tspan font-size="22" dy="-12.5">3</tspan></text>
<text x="2610.8" y="738.5" font-size="29.5" font-weight="bold" text-anchor="middle">10<tspan font-size="22" dy="-12.5">4</tspan></text>
<rect x="1854.1" y="113.2" width="38.7" height="12.5" fill="#d3e2bd" stroke="none" stroke-width="0"/>
<text x="1909.4" y="128.0" font-size="27.3" text-anchor="start" fill="#000">Endurance</text>
<rect x="2168.8" y="115.1" width="37.9" height="13.4" fill="#93cbdc" stroke="none" stroke-width="0"/>
<text x="2220.9" y="129.8" font-size="27.3" text-anchor="start" fill="#000">Power</text>
<rect x="2469.2" y="115.1" width="38.7" height="13.4" fill="#efd8b0" stroke="none" stroke-width="0"/>
<text x="2521.8" y="129.8" font-size="27.3" text-anchor="start" fill="#000">Energy</text>
<path d="M198.1,1367.9 L198.1,1368.2 L198.2,1364.8 L198.5,1360.4 L198.8,1355.1 L199.1,1349.2 L199.4,1342.9 L199.8,1336.3 L200.1,1329.8 L200.4,1323.4 L200.7,1317.4 L200.9,1311.9 L201.1,1307.0 L201.2,1302.1 L201.3,1297.4 L201.3,1292.8 L201.4,1288.4 L201.4,1284.0 L201.5,1279.7 L201.6,1275.4 L201.7,1271.2 L201.8,1267.0 L202.0,1263.0 L202.2,1259.1 L202.5,1255.4 L202.7,1251.8 L203.0,1248.2 L203.2,1244.6 L203.5,1240.9 L203.7,1237.1 L204.0,1233.0 L204.2,1228.8 L204.4,1224.1 L204.5,1219.2 L204.6,1214.0 L204.6,1208.7 L204.7,1203.3 L204.8,1198.0 L205.0,1192.8 L205.2,1187.7 L205.6,1183.0 L206.1,1178.6 L206.8,1174.9 L207.6,1171.7 L208.6,1169.0 L209.6,1166.6 L210.7,1164.1 L211.8,1161.6 L212.9,1158.7 L213.9,1155.2 L214.8,1151.1 L215.5,1146.0 L216.1,1139.8 L216.5,1132.6 L216.8,1124.5 L217.0,1115.9 L217.2,1107.0 L217.3,1098.1 L217.6,1089.4 L217.9,1081.1 L218.3,1073.6 L218.9,1067.1 L219.5,1061.3 L220.3,1056.0 L221.1,1051.0 L222.0,1046.5 L223.0,1042.3 L224.0,1038.5 L225.1,1035.1 L226.3,1032.0 L227.5,1029.3 L228.8,1026.9 L230.1,1025.1 L231.6,1023.8 L233.1,1023.1 L234.8,1022.7 L236.4,1022.7 L238.1,1022.8 L239.8,1023.1 L241.5,1023.2 L243.2,1023.3 L244.8,1023.1 L246.5,1022.8 L248.1,1022.5 L249.7,1022.2 L251.3,1021.9 L252.9,1021.6 L254.6,1021.4 L256.2,1021.1 L257.8,1020.8 L259.4,1020.6 L261.0,1020.3 L262.7,1020.0 L264.3,1019.8 L265.9,1019.6 L267.5,1019.3 L269.1,1019.1 L270.7,1018.9 L272.4,1018.6 L274.0,1018.4 L275.6,1018.2 L277.2,1017.9 L278.8,1017.7 L280.5,1017.5 L282.1,1017.2 L283.7,1017.0 L285.3,1016.8 L286.9,1016.6 L288.5,1016.3 L290.2,1016.1 L291.8,1015.8 L293.4,1015.6 L295.0,1015.3 L296.6,1015.0 L298.3,1014.7 L299.9,1014.4 L301.5,1014.2 L303.1,1013.9 L304.7,1013.6 L306.3,1013.3 L308.0,1013.0 L309.6,1012.7 L311.2,1012.5 L312.8,1012.2 L314.4,1012.0 L316.1,1011.8 L317.7,1011.6 L319.3,1011.4 L320.9,1011.1 L322.5,1010.9 L324.2,1010.6 L325.8,1010.4 L327.4,1010.1 L329.0,1009.8 L330.6,1009.5 L332.2,1009.1 L333.9,1008.8 L335.5,1008.5 L337.1,1008.1 L338.7,1007.8 L340.3,1007.4 L342.0,1007.1 L343.6,1006.7 L345.2,1006.3 L346.8,1005.9 L348.4,1005.5 L350.0,1005.1 L351.7,1004.7 L353.3,1004.4 L354.9,1004.0 L356.5,1003.6 L358.1,1003.3 L359.8,1003.0 L361.4,1002.7 L363.0,1002.4 L364.6,1002.1 L366.2,1001.8 L367.9,1001.5 L369.5,1001.3 L371.1,1001.0 L372.7,1000.7 L374.3,1000.4 L375.9,1000.2 L377.6,999.9 L379.2,999.6 L380.8,999.3 L382.4,999.0 L384.0,998.7 L385.7,998.5 L387.3,998.2 L388.9,997.9 L390.5,997.6 L392.1,997.3 L393.7,997.1 L395.4,996.8 L397.0,996.5 L398.6,996.2 L400.2,995.9 L401.8,995.7 L403.5,995.4 L405.1,995.1 L406.7,994.8 L408.3,994.5 L409.9,994.1 L411.5,993.8 L413.2,993.5 L414.8,993.1 L416.4,992.8 L418.0,992.4 L419.6,992.1 L421.3,991.8 L422.9,991.5 L424.5,991.2 L426.1,990.9 L427.7,990.6 L429.4,990.4 L431.0,990.1 L432.6,989.9 L434.2,989.6 L435.8,989.3 L437.4,989.0 L439.1,988.6 L440.7,988.2 L442.3,987.8 L443.9,987.3 L445.5,986.8 L447.2,986.3 L448.8,985.8 L450.4,985.3 L452.0,984.8 L453.6,984.3 L455.2,983.9 L456.9,983.5 L458.5,983.1 L460.1,982.7 L461.7,982.4 L463.3,982.0 L465.0,981.7 L466.6,981.3 L468.2,980.9 L469.8,980.5 L471.4,980.1 L473.0,979.7 L474.7,979.2 L476.3,978.7 L477.9,978.3 L479.5,977.8 L481.1,977.3 L482.8,976.8 L484.4,976.3 L486.0,975.8 L487.6,975.4 L489.2,975.0 L490.9,974.6 L492.5,974.2 L494.1,973.8 L495.7,973.4 L497.3,973.0 L498.9,972.6 L500.6,972.3 L502.2,971.9 L503.8,971.6 L505.4,971.3 L507.0,971.0 L508.7,970.7 L510.3,970.5 L511.9,970.2 L513.5,969.9 L515.1,969.7 L516.7,969.4 L518.4,969.1 L520.0,968.8 L521.6,968.4 L523.2,968.1 L524.8,967.7 L526.5,967.3 L528.1,966.9 L529.7,966.6 L531.3,966.2 L532.9,965.8 L534.6,965.4 L536.2,965.0 L537.8,964.6 L539.4,964.3 L541.0,963.9 L542.6,963.5 L544.3,963.2 L545.9,962.8 L547.5,962.4 L549.1,962.0 L550.7,961.6 L552.4,961.2 L554.0,960.8 L555.6,960.3 L557.2,959.9 L558.8,959.4 L560.4,958.9 L562.1,958.4 L563.7,957.9 L565.3,957.4 L566.9,956.9 L568.5,956.5 L570.2,956.0 L571.8,955.6 L573.4,955.2 L575.0,954.8 L576.6,954.4 L578.2,954.0 L579.9,953.6 L581.5,953.2 L583.1,952.7 L584.7,952.2 L586.3,951.7 L588.0,951.2 L589.6,950.6 L591.2,950.0 L592.8,949.4 L594.4,948.8 L596.1,948.2 L597.7,947.6 L599.3,947.1 L600.9,946.6 L602.5,946.1 L604.1,945.6 L605.8,945.1 L607.4,944.7 L609.0,944.3 L610.6,943.8 L612.2,943.4 L613.9,943.0 L615.5,942.7 L617.1,942.3 L618.7,942.0 L620.3,941.7 L621.9,941.4 L623.6,941.1 L625.2,940.9 L626.8,940.6 L628.4,940.4 L630.0,940.1 L631.7,939.8 L633.3,939.5 L634.9,939.1 L636.5,938.7 L638.1,938.4 L639.8,938.0 L641.4,937.6 L643.0,937.1 L644.6,936.7 L646.2,936.2 L647.8,935.7 L649.5,935.2 L651.1,934.7 L652.7,934.1 L654.3,933.5 L655.9,932.8 L657.6,932.1 L659.2,931.5 L660.8,930.8 L662.4,930.2 L664.0,929.6 L665.6,929.1 L667.3,928.6 L668.9,928.1 L670.5,927.7 L672.1,927.3 L673.7,926.9 L675.4,926.5 L677.0,926.1 L678.6,925.7 L680.2,925.3 L681.8,924.8 L683.4,924.3 L685.1,923.8 L686.7,923.3 L688.3,922.8 L689.9,922.3 L691.5,921.7 L693.2,921.2 L694.8,920.7 L696.4,920.1 L698.0,919.6 L699.6,919.1 L701.3,918.6 L702.9,918.1 L704.5,917.6 L706.1,917.0 L707.7,916.5 L709.3,916.0 L711.0,915.5 L712.6,915.0 L714.2,914.4 L715.8,913.9 L717.4,913.3 L719.1,912.7 L720.7,912.1 L722.3,911.5 L723.9,910.9 L725.5,910.4 L727.1,909.8 L728.8,909.3 L730.4,908.7 L732.0,908.3 L733.6,907.8 L735.2,907.4 L736.9,907.0 L738.5,906.6 L740.1,906.3 L741.7,905.9 L743.3,905.4 L744.9,905.0 L746.6,904.5 L748.2,904.0 L749.8,903.4 L751.4,902.8 L753.0,902.2 L754.7,901.6 L756.3,901.0 L757.9,900.4 L759.5,899.7 L761.1,899.0 L762.8,898.3 L764.4,897.7 L766.0,897.0 L767.6,896.2 L769.2,895.5 L770.8,894.8 L772.5,894.0 L774.1,893.2 L775.7,892.4 L777.3,891.6 L778.9,890.8 L780.6,889.9 L782.2,889.0 L783.8,888.1 L785.4,887.1 L787.0,886.1 L788.6,885.1 L790.3,884.2 L791.9,883.2 L793.5,882.2 L795.1,881.3 L796.7,880.5 L798.4,879.6 L800.0,878.8 L801.6,878.0 L803.2,877.2 L804.8,876.4 L806.5,875.6 L808.1,874.7 L809.7,873.8 L811.3,872.8 L813.0,871.8 L814.8,870.6 L816.7,869.3 L818.6,867.9 L820.4,866.6 L822.2,865.3 L823.8,864.1 L825.3,863.1 L826.5,862.2 L827.5,861.5 L827.5,1367.9 Z" fill="#e0dfef"/>
<polyline points="198.05,1368.19 198.23,1364.79 198.47,1360.36 198.75,1355.09 199.07,1349.20 199.41,1342.87 199.75,1336.32 200.09,1329.75 200.40,1323.37 200.67,1317.36 200.89,1311.94 201.05,1306.96 201.18,1302.13 201.27,1297.43 201.33,1292.85 201.39,1288.37 201.44,1283.98 201.51,1279.66 201.58,1275.41 201.69,1271.21 201.83,1267.04 202.02,1262.99 202.22,1259.15 202.45,1255.44 202.70,1251.81 202.96,1248.22 203.22,1244.60 203.48,1240.90 203.73,1237.06 203.97,1233.03 204.20,1228.75 204.37,1224.14 204.48,1219.21 204.56,1214.04 204.62,1208.72 204.70,1203.34 204.81,1198.00 204.98,1192.76 205.23,1187.74 205.59,1183.00 206.09,1178.65 206.75,1174.88 207.59,1171.75 208.56,1169.04 209.62,1166.56 210.73,1164.14 211.84,1161.57 212.92,1158.67 213.92,1155.24 214.81,1151.09 215.54,1146.03 216.09,1139.84 216.49,1132.59 216.78,1124.53 216.99,1115.93 217.17,1107.04 217.35,1098.10 217.56,1089.39 217.86,1081.14 218.28,1073.63 218.85,1067.09 219.55,1061.34 220.31,1056.00 221.15,1051.05 222.05,1046.49 223.02,1042.31 224.05,1038.51 225.14,1035.07 226.29,1032.00 227.51,1029.29 228.78,1026.92 230.13,1025.06 231.60,1023.82 233.14,1023.08 234.76,1022.74 236.42,1022.69 238.12,1022.83 239.82,1023.05 241.53,1023.25 243.21,1023.31 244.85,1023.13 246.46,1022.81 248.08,1022.50 249.69,1022.20 251.31,1021.91 252.93,1021.63 254.55,1021.35 256.17,1021.09 257.79,1020.82 259.41,1020.56 261.03,1020.30 262.65,1020.04 264.27,1019.80 265.89,1019.55 267.51,1019.32 269.12,1019.09 270.74,1018.86 272.36,1018.63 273.98,1018.40 275.60,1018.17 277.22,1017.94 278.84,1017.70 280.45,1017.47 282.07,1017.24 283.69,1017.01 285.31,1016.78 286.93,1016.55 288.55,1016.32 290.16,1016.07 291.78,1015.83 293.40,1015.57 295.02,1015.31 296.64,1015.03 298.26,1014.74 299.88,1014.45 301.49,1014.15 303.11,1013.86 304.73,1013.57 306.35,1013.28 307.97,1013.00 309.59,1012.74 311.20,1012.48 312.82,1012.25 314.44,1012.02 316.06,1011.80 317.68,1011.58 319.30,1011.36 320.92,1011.14 322.53,1010.90 324.15,1010.64 325.77,1010.37 327.39,1010.08 329.01,1009.78 330.63,1009.46 332.24,1009.14 333.86,1008.81 335.48,1008.47 337.10,1008.12 338.72,1007.77 340.34,1007.42 341.96,1007.06 343.57,1006.70 345.19,1006.32 346.81,1005.93 348.43,1005.54 350.05,1005.14 351.67,1004.75 353.28,1004.36 354.90,1003.99 356.52,1003.62 358.14,1003.28 359.76,1002.96 361.38,1002.65 362.99,1002.36 364.61,1002.08 366.23,1001.81 367.85,1001.54 369.47,1001.27 371.09,1001.00 372.71,1000.73 374.32,1000.45 375.94,1000.16 377.56,999.88 379.18,999.60 380.80,999.31 382.42,999.03 384.03,998.74 385.65,998.46 387.27,998.18 388.89,997.89 390.51,997.61 392.13,997.33 393.75,997.05 395.36,996.77 396.98,996.50 398.60,996.22 400.22,995.94 401.84,995.66 403.46,995.37 405.07,995.08 406.69,994.77 408.31,994.46 409.93,994.13 411.55,993.80 413.17,993.46 414.79,993.12 416.40,992.78 418.02,992.44 419.64,992.10 421.26,991.78 422.88,991.47 424.50,991.17 426.11,990.90 427.73,990.64 429.35,990.39 430.97,990.14 432.59,989.88 434.21,989.60 435.83,989.31 437.44,988.99 439.06,988.63 440.68,988.23 442.30,987.79 443.92,987.32 445.54,986.83 447.15,986.32 448.77,985.82 450.39,985.31 452.01,984.82 453.63,984.35 455.25,983.90 456.87,983.49 458.48,983.10 460.10,982.73 461.72,982.37 463.34,982.01 464.96,981.66 466.58,981.30 468.19,980.92 469.81,980.53 471.43,980.12 473.05,979.68 474.67,979.22 476.29,978.74 477.91,978.25 479.52,977.76 481.14,977.26 482.76,976.77 484.38,976.29 486.00,975.83 487.62,975.39 489.23,974.97 490.85,974.56 492.47,974.16 494.09,973.77 495.71,973.39 497.33,973.01 498.94,972.65 500.56,972.29 502.18,971.95 503.80,971.61 505.42,971.30 507.04,971.00 508.66,970.72 510.27,970.46 511.89,970.19 513.51,969.93 515.13,969.67 516.75,969.39 518.37,969.09 519.98,968.78 521.60,968.44 523.22,968.08 524.84,967.71 526.46,967.33 528.08,966.95 529.70,966.55 531.31,966.16 532.93,965.77 534.55,965.38 536.17,965.00 537.79,964.62 539.41,964.25 541.02,963.89 542.64,963.53 544.26,963.16 545.88,962.79 547.50,962.42 549.12,962.03 550.74,961.63 552.35,961.21 553.97,960.78 555.59,960.32 557.21,959.85 558.83,959.37 560.45,958.88 562.06,958.39 563.68,957.90 565.30,957.42 566.92,956.94 568.54,956.49 570.16,956.05 571.78,955.63 573.39,955.22 575.01,954.82 576.63,954.42 578.25,954.01 579.87,953.60 581.49,953.17 583.10,952.71 584.72,952.23 586.34,951.72 587.96,951.17 589.58,950.59 591.20,950.00 592.82,949.40 594.43,948.80 596.05,948.20 597.67,947.63 599.29,947.08 600.91,946.56 602.53,946.07 604.14,945.60 605.76,945.14 607.38,944.69 609.00,944.26 610.62,943.84 612.24,943.43 613.86,943.04 615.47,942.67 617.09,942.31 618.71,941.97 620.33,941.67 621.95,941.40 623.57,941.14 625.18,940.89 626.80,940.64 628.42,940.38 630.04,940.11 631.66,939.81 633.28,939.47 634.90,939.11 636.51,938.74 638.13,938.36 639.75,937.96 641.37,937.55 642.99,937.12 644.61,936.68 646.22,936.21 647.84,935.72 649.46,935.22 651.08,934.67 652.70,934.08 654.32,933.45 655.93,932.80 657.55,932.14 659.17,931.48 660.79,930.84 662.41,930.21 664.03,929.62 665.65,929.07 667.26,928.57 668.88,928.11 670.50,927.69 672.12,927.28 673.74,926.89 675.36,926.50 676.97,926.10 678.59,925.70 680.21,925.27 681.83,924.82 683.45,924.34 685.07,923.84 686.69,923.33 688.30,922.81 689.92,922.28 691.54,921.74 693.16,921.21 694.78,920.67 696.40,920.14 698.01,919.62 699.63,919.10 701.25,918.59 702.87,918.07 704.49,917.56 706.11,917.05 707.73,916.53 709.34,916.01 710.96,915.49 712.58,914.96 714.20,914.42 715.82,913.86 717.44,913.29 719.05,912.71 720.67,912.12 722.29,911.52 723.91,910.94 725.53,910.36 727.15,909.80 728.77,909.26 730.38,908.75 732.00,908.27 733.62,907.84 735.24,907.43 736.86,907.03 738.48,906.65 740.09,906.26 741.71,905.86 743.33,905.44 744.95,904.99 746.57,904.49 748.19,903.96 749.81,903.41 751.42,902.83 753.04,902.24 754.66,901.63 756.28,901.00 757.90,900.35 759.52,899.70 761.13,899.03 762.75,898.35 764.37,897.66 765.99,896.96 767.61,896.24 769.23,895.52 770.85,894.77 772.46,894.01 774.08,893.24 775.70,892.44 777.32,891.62 778.94,890.78 780.56,889.91 782.17,889.00 783.79,888.06 785.41,887.09 787.03,886.12 788.65,885.14 790.27,884.16 791.89,883.19 793.50,882.25 795.12,881.33 796.74,880.45 798.36,879.61 799.98,878.80 801.60,878.00 803.21,877.20 804.83,876.38 806.45,875.55 808.07,874.69 809.69,873.78 811.31,872.82 813.00,871.75 814.80,870.55 816.67,869.27 818.56,867.94 820.41,866.62 822.18,865.34 823.83,864.14 825.29,863.07 826.53,862.17 827.49,861.48" fill="none" stroke="#000" stroke-width="3.4" stroke-linejoin="round"/>
<circle cx="198.1" cy="1368.2" r="5.9" fill="#1a76a2" stroke="none" stroke-width="0"/>
<circle cx="200.9" cy="1311.9" r="5.9" fill="#1a76a2" stroke="none" stroke-width="0"/>
<circle cx="201.8" cy="1267.0" r="5.9" fill="#1a76a2" stroke="none" stroke-width="0"/>
<circle cx="204.2" cy="1228.8" r="5.9" fill="#1a76a2" stroke="none" stroke-width="0"/>
<circle cx="206.1" cy="1178.6" r="5.9" fill="#1a76a2" stroke="none" stroke-width="0"/>
<circle cx="215.5" cy="1146.0" r="5.9" fill="#1a76a2" stroke="none" stroke-width="0"/>
<circle cx="218.9" cy="1067.1" r="5.9" fill="#1a76a2" stroke="none" stroke-width="0"/>
<circle cx="228.8" cy="1026.9" r="5.9" fill="#1a76a2" stroke="none" stroke-width="0"/>
<circle cx="244.8" cy="1023.1" r="5.9" fill="#1a76a2" stroke="none" stroke-width="0"/>
<circle cx="261.0" cy="1020.3" r="5.9" fill="#1a76a2" stroke="none" stroke-width="0"/>
<circle cx="277.2" cy="1017.9" r="5.9" fill="#1a76a2" stroke="none" stroke-width="0"/>
<circle cx="293.4" cy="1015.6" r="5.9" fill="#1a76a2" stroke="none" stroke-width="0"/>
<circle cx="309.6" cy="1012.7" r="5.9" fill="#1a76a2" stroke="none" stroke-width="0"/>
<circle cx="325.8" cy="1010.4" r="5.9" fill="#1a76a2" stroke="none" stroke-width="0"/>
<circle cx="342.0" cy="1007.1" r="5.9" fill="#1a76a2" stroke="none" stroke-width="0"/>
<circle cx="358.1" cy="1003.3" r="5.9" fill="#1a76a2" stroke="none" stroke-width="0"/>
<circle cx="374.3" cy="1000.4" r="5.9" fill="#1a76a2" stroke="none" stroke-width="0"/>
<circle cx="390.5" cy="997.6" r="5.9" fill="#1a76a2" stroke="none" stroke-width="0"/>
<circle cx="406.7" cy="994.8" r="5.9" fill="#1a76a2" stroke="none" stroke-width="0"/>
<circle cx="422.9" cy="991.5" r="5.9" fill="#1a76a2" stroke="none" stroke-width="0"/>
<circle cx="439.1" cy="988.6" r="5.9" fill="#1a76a2" stroke="none" stroke-width="0"/>
<circle cx="455.2" cy="983.9" r="5.9" fill="#1a76a2" stroke="none" stroke-width="0"/>
<circle cx="471.4" cy="980.1" r="5.9" fill="#1a76a2" stroke="none" stroke-width="0"/>
<circle cx="487.6" cy="975.4" r="5.9" fill="#1a76a2" stroke="none" stroke-width="0"/>
<circle cx="503.8" cy="971.6" r="5.9" fill="#1a76a2" stroke="none" stroke-width="0"/>
<circle cx="520.0" cy="968.8" r="5.9" fill="#1a76a2" stroke="none" stroke-width="0"/>
<circle cx="536.2" cy="965.0" r="5.9" fill="#1a76a2" stroke="none" stroke-width="0"/>
<circle cx="552.4" cy="961.2" r="5.9" fill="#1a76a2" stroke="none" stroke-width="0"/>
<circle cx="568.5" cy="956.5" r="5.9" fill="#1a76a2" stroke="none" stroke-width="0"/>
<circle cx="584.7" cy="952.2" r="5.9" fill="#1a76a2" stroke="none" stroke-width="0"/>
<circle cx="600.9" cy="946.6" r="5.9" fill="#1a76a2" stroke="none" stroke-width="0"/>
<circle cx="617.1" cy="942.3" r="5.9" fill="#1a76a2" stroke="none" stroke-width="0"/>
<circle cx="633.3" cy="939.5" r="5.9" fill="#1a76a2" stroke="none" stroke-width="0"/>
<circle cx="649.5" cy="935.2" r="5.9" fill="#1a76a2" stroke="none" stroke-width="0"/>
<circle cx="665.6" cy="929.1" r="5.9" fill="#1a76a2" stroke="none" stroke-width="0"/>
<circle cx="681.8" cy="924.8" r="5.9" fill="#1a76a2" stroke="none" stroke-width="0"/>
<circle cx="698.0" cy="919.6" r="5.9" fill="#1a76a2" stroke="none" stroke-width="0"/>
<circle cx="714.2" cy="914.4" r="5.9" fill="#1a76a2" stroke="none" stroke-width="0"/>
<circle cx="730.4" cy="908.7" r="5.9" fill="#1a76a2" stroke="none" stroke-width="0"/>
<circle cx="746.6" cy="904.5" r="5.9" fill="#1a76a2" stroke="none" stroke-width="0"/>
<circle cx="762.8" cy="898.3" r="5.9" fill="#1a76a2" stroke="none" stroke-width="0"/>
<circle cx="778.9" cy="890.8" r="5.9" fill="#1a76a2" stroke="none" stroke-width="0"/>
<circle cx="795.1" cy="881.3" r="5.9" fill="#1a76a2" stroke="none" stroke-width="0"/>
<circle cx="811.3" cy="872.8" r="5.9" fill="#1a76a2" stroke="none" stroke-width="0"/>
<circle cx="827.5" cy="861.5" r="5.9" fill="#1a76a2" stroke="none" stroke-width="0"/>
<rect x="166.0" y="816.5" width="712.7" height="574.5" fill="none" stroke="#000" stroke-width="2.4"/>
<line x1="198.2" y1="1391.0" x2="198.2" y2="1383.5" stroke="#000" stroke-width="2.0"/>
<line x1="198.2" y1="816.5" x2="198.2" y2="824.0" stroke="#000" stroke-width="2.0"/>
<text x="198.2" y="1416.5" font-size="22.5" text-anchor="middle" font-weight="bold" fill="#000">0</text>
<line x1="295.4" y1="1391.0" x2="295.4" y2="1383.5" stroke="#000" stroke-width="2.0"/>
<line x1="295.4" y1="816.5" x2="295.4" y2="824.0" stroke="#000" stroke-width="2.0"/>
<text x="295.4" y="1416.5" font-size="22.5" text-anchor="middle" font-weight="bold" fill="#000">30</text>
<line x1="392.7" y1="1391.0" x2="392.7" y2="1383.5" stroke="#000" stroke-width="2.0"/>
<line x1="392.7" y1="816.5" x2="392.7" y2="824.0" stroke="#000" stroke-width="2.0"/>
<text x="392.7" y="1416.5" font-size="22.5" text-anchor="middle" font-weight="bold" fill="#000">60</text>
<line x1="489.9" y1="1391.0" x2="489.9" y2="1383.5" stroke="#000" stroke-width="2.0"/>
<line x1="489.9" y1="816.5" x2="489.9" y2="824.0" stroke="#000" stroke-width="2.0"/>
<text x="489.9" y="1416.5" font-size="22.5" text-anchor="middle" font-weight="bold" fill="#000">90</text>
<line x1="587.2" y1="1391.0" x2="587.2" y2="1383.5" stroke="#000" stroke-width="2.0"/>
<line x1="587.2" y1="816.5" x2="587.2" y2="824.0" stroke="#000" stroke-width="2.0"/>
<text x="587.2" y="1416.5" font-size="22.5" text-anchor="middle" font-weight="bold" fill="#000">120</text>
<line x1="684.4" y1="1391.0" x2="684.4" y2="1383.5" stroke="#000" stroke-width="2.0"/>
<line x1="684.4" y1="816.5" x2="684.4" y2="824.0" stroke="#000" stroke-width="2.0"/>
<text x="684.4" y="1416.5" font-size="22.5" text-anchor="middle" font-weight="bold" fill="#000">150</text>
<line x1="781.7" y1="1391.0" x2="781.7" y2="1383.5" stroke="#000" stroke-width="2.0"/>
<line x1="781.7" y1="816.5" x2="781.7" y2="824.0" stroke="#000" stroke-width="2.0"/>
<text x="781.7" y="1416.5" font-size="22.5" text-anchor="middle" font-weight="bold" fill="#000">180</text>
<text x="878.9" y="1416.5" font-size="22.5" text-anchor="middle" font-weight="bold" fill="#000">210</text>
<line x1="246.8" y1="1391.0" x2="246.8" y2="1387.5" stroke="#000" stroke-width="2.0"/>
<line x1="344.1" y1="1391.0" x2="344.1" y2="1387.5" stroke="#000" stroke-width="2.0"/>
<line x1="441.3" y1="1391.0" x2="441.3" y2="1387.5" stroke="#000" stroke-width="2.0"/>
<line x1="538.5" y1="1391.0" x2="538.5" y2="1387.5" stroke="#000" stroke-width="2.0"/>
<line x1="635.8" y1="1391.0" x2="635.8" y2="1387.5" stroke="#000" stroke-width="2.0"/>
<line x1="733.0" y1="1391.0" x2="733.0" y2="1387.5" stroke="#000" stroke-width="2.0"/>
<line x1="830.3" y1="1391.0" x2="830.3" y2="1387.5" stroke="#000" stroke-width="2.0"/>
<line x1="166.0" y1="1367.9" x2="173.0" y2="1367.9" stroke="#000" stroke-width="2.0"/>
<line x1="878.7" y1="1367.9" x2="871.7" y2="1367.9" stroke="#000" stroke-width="2.0"/>
<text x="155.8" y="1375.7" font-size="22.5" text-anchor="end" font-weight="bold" fill="#000">0</text>
<line x1="166.0" y1="1257.5" x2="173.0" y2="1257.5" stroke="#000" stroke-width="2.0"/>
<line x1="878.7" y1="1257.5" x2="871.7" y2="1257.5" stroke="#000" stroke-width="2.0"/>
<text x="155.8" y="1265.3" font-size="22.5" text-anchor="end" font-weight="bold" fill="#000">10</text>
<line x1="166.0" y1="1147.1" x2="173.0" y2="1147.1" stroke="#000" stroke-width="2.0"/>
<line x1="878.7" y1="1147.1" x2="871.7" y2="1147.1" stroke="#000" stroke-width="2.0"/>
<text x="155.8" y="1154.9" font-size="22.5" text-anchor="end" font-weight="bold" fill="#000">20</text>
<line x1="166.0" y1="1036.7" x2="173.0" y2="1036.7" stroke="#000" stroke-width="2.0"/>
<line x1="878.7" y1="1036.7" x2="871.7" y2="1036.7" stroke="#000" stroke-width="2.0"/>
<text x="155.8" y="1044.5" font-size="22.5" text-anchor="end" font-weight="bold" fill="#000">30</text>
<line x1="166.0" y1="926.3" x2="173.0" y2="926.3" stroke="#000" stroke-width="2.0"/>
<line x1="878.7" y1="926.3" x2="871.7" y2="926.3" stroke="#000" stroke-width="2.0"/>
<text x="155.8" y="934.1" font-size="22.5" text-anchor="end" font-weight="bold" fill="#000">40</text>
<text x="155.8" y="823.7" font-size="22.5" text-anchor="end" font-weight="bold" fill="#000">50</text>
<line x1="166.0" y1="1312.7" x2="169.5" y2="1312.7" stroke="#000" stroke-width="2.0"/>
<line x1="166.0" y1="1202.3" x2="169.5" y2="1202.3" stroke="#000" stroke-width="2.0"/>
<line x1="166.0" y1="1091.9" x2="169.5" y2="1091.9" stroke="#000" stroke-width="2.0"/>
<line x1="166.0" y1="981.5" x2="169.5" y2="981.5" stroke="#000" stroke-width="2.0"/>
<line x1="166.0" y1="871.1" x2="169.5" y2="871.1" stroke="#000" stroke-width="2.0"/>
<text x="111.7" y="1104.0" font-size="35" text-anchor="middle" transform="rotate(-90 111.7 1104.0)" fill="#000">Force (N)</text>
<text x="522.0" y="1466.0" font-size="34.7" text-anchor="middle" fill="#000">Compression (mm)</text>
<text x="525.6" y="1145.6" font-size="57.5" text-anchor="middle" fill="#000">7.019</text>
<text x="524.7" y="1215.0" font-size="57.5" text-anchor="middle" fill="#000">J</text>
<path d="M218.8,1325.1 L333.4,1325.1 M218.8,1363.7 L333.4,1363.7" stroke="#000" fill="none" stroke-width="2.8"/>
<g transform="translate(218.8,1344.5) rotate(90)">
<ellipse cx="0" cy="0" rx="20.8" ry="6.6" fill="#000"/>
<path d="M-15.39,0 Q0,-6.60 15.39,0 Q0,6.60 -15.39,0 Z" fill="#fff"/>
<path d="M-4.62,-0.82 L0,0.99 L4.62,-0.82" fill="none" stroke="#000" stroke-width="1.3"/>
</g>
<g transform="translate(333.4,1344.5) rotate(90)">
<ellipse cx="0" cy="0" rx="20.8" ry="6.6" fill="#000"/>
<path d="M-15.39,0 Q0,-6.60 15.39,0 Q0,6.60 -15.39,0 Z" fill="#fff"/>
<path d="M-4.62,-0.82 L0,0.99 L4.62,-0.82" fill="none" stroke="#000" stroke-width="1.3"/>
</g>
<path d="M298,1034 C270,1060 268,1100 300.5,1128" stroke="#000" fill="none" stroke-width="2.8"/>
<path d="M333.5,1034 C362,1060 364,1100 331,1128" stroke="#000" fill="none" stroke-width="2.8"/>
<g transform="translate(315.8,1033.6)">
<ellipse cx="0" cy="0" rx="19.2" ry="6.2" fill="#000"/>
<path d="M-14.21,0 Q0,-6.20 14.21,0 Q0,6.20 -14.21,0 Z" fill="#fff"/>
<path d="M-4.26,-0.78 L0,0.93 L4.26,-0.78" fill="none" stroke="#000" stroke-width="1.3"/>
</g>
<g transform="translate(315.8,1128.4)">
<ellipse cx="0" cy="0" rx="19.2" ry="6.2" fill="#000"/>
<path d="M-14.21,0 Q0,-6.20 14.21,0 Q0,6.20 -14.21,0 Z" fill="#fff"/>
<path d="M-4.26,-0.78 L0,0.93 L4.26,-0.78" fill="none" stroke="#000" stroke-width="1.3"/>
</g>
<path d="M790.5,906.8 C760,906.8 739.4,918 739.4,935 C739.4,952 760,963.2 790.5,963.2" stroke="#000" fill="none" stroke-width="2.8"/>
<path d="M828,906.8 C858,906.8 877,918 877,935 C877,952 858,963.2 828,963.2" stroke="#000" fill="none" stroke-width="2.8"/>
<g transform="translate(809.3,908.8)">
<ellipse cx="0" cy="0" rx="20.3" ry="6.3" fill="#000"/>
<path d="M-15.02,0 Q0,-6.30 15.02,0 Q0,6.30 -15.02,0 Z" fill="#fff"/>
<path d="M-4.51,-0.79 L0,0.94 L4.51,-0.79" fill="none" stroke="#000" stroke-width="1.3"/>
</g>
<g transform="translate(809.3,958.4)">
<ellipse cx="0" cy="0" rx="20.3" ry="6.3" fill="#000"/>
<path d="M-15.02,0 Q0,-6.30 15.02,0 Q0,6.30 -15.02,0 Z" fill="#fff"/>
<path d="M-4.51,-0.79 L0,0.94 L4.51,-0.79" fill="none" stroke="#000" stroke-width="1.3"/>
</g>
<path d="M273.8,1315.3 C273,1250 284,1200 298,1168" stroke="#c9534b" stroke-width="2.6" fill="none"/>
<polygon points="302.9,1146.2 288.8,1169.5 303.8,1172" fill="#c9534b"/>
<line x1="356.4" y1="1072.6" x2="737" y2="967.5" stroke="#c9534b" stroke-width="2.5"/>
<polygon points="756.1,961.7 733.5,961 737.6,974.7" fill="#c9534b"/>
<rect x="1010.2" y="792.2" width="736.7" height="592.1" fill="none" stroke="#000" stroke-width="2.4"/>
<line x1="1051.3" y1="1384.3" x2="1051.3" y2="1379.3" stroke="#000" stroke-width="2.2"/>
<line x1="1075.3" y1="1384.3" x2="1075.3" y2="1379.3" stroke="#000" stroke-width="2.2"/>
<line x1="1092.4" y1="1384.3" x2="1092.4" y2="1379.3" stroke="#000" stroke-width="2.2"/>
<line x1="1105.6" y1="1384.3" x2="1105.6" y2="1379.3" stroke="#000" stroke-width="2.2"/>
<line x1="1116.4" y1="1384.3" x2="1116.4" y2="1379.3" stroke="#000" stroke-width="2.2"/>
<line x1="1125.6" y1="1384.3" x2="1125.6" y2="1379.3" stroke="#000" stroke-width="2.2"/>
<line x1="1133.5" y1="1384.3" x2="1133.5" y2="1379.3" stroke="#000" stroke-width="2.2"/>
<line x1="1140.5" y1="1384.3" x2="1140.5" y2="1379.3" stroke="#000" stroke-width="2.2"/>
<text x="1010.7" y="1420.6" font-size="24.5" text-anchor="middle">10<tspan font-size="16.0" dy="-11.0">-3</tspan></text>
<line x1="1146.7" y1="1384.3" x2="1146.7" y2="1374.3" stroke="#000" stroke-width="2.2"/>
<line x1="1146.7" y1="792.2" x2="1146.7" y2="802.2" stroke="#000" stroke-width="2.2"/>
<line x1="1187.8" y1="1384.3" x2="1187.8" y2="1379.3" stroke="#000" stroke-width="2.2"/>
<line x1="1211.8" y1="1384.3" x2="1211.8" y2="1379.3" stroke="#000" stroke-width="2.2"/>
<line x1="1228.9" y1="1384.3" x2="1228.9" y2="1379.3" stroke="#000" stroke-width="2.2"/>
<line x1="1242.1" y1="1384.3" x2="1242.1" y2="1379.3" stroke="#000" stroke-width="2.2"/>
<line x1="1252.9" y1="1384.3" x2="1252.9" y2="1379.3" stroke="#000" stroke-width="2.2"/>
<line x1="1262.1" y1="1384.3" x2="1262.1" y2="1379.3" stroke="#000" stroke-width="2.2"/>
<line x1="1270.0" y1="1384.3" x2="1270.0" y2="1379.3" stroke="#000" stroke-width="2.2"/>
<line x1="1277.0" y1="1384.3" x2="1277.0" y2="1379.3" stroke="#000" stroke-width="2.2"/>
<text x="1147.2" y="1420.6" font-size="24.5" text-anchor="middle">10<tspan font-size="16.0" dy="-11.0">-2</tspan></text>
<line x1="1283.2" y1="1384.3" x2="1283.2" y2="1374.3" stroke="#000" stroke-width="2.2"/>
<line x1="1283.2" y1="792.2" x2="1283.2" y2="802.2" stroke="#000" stroke-width="2.2"/>
<line x1="1324.3" y1="1384.3" x2="1324.3" y2="1379.3" stroke="#000" stroke-width="2.2"/>
<line x1="1348.3" y1="1384.3" x2="1348.3" y2="1379.3" stroke="#000" stroke-width="2.2"/>
<line x1="1365.4" y1="1384.3" x2="1365.4" y2="1379.3" stroke="#000" stroke-width="2.2"/>
<line x1="1378.6" y1="1384.3" x2="1378.6" y2="1379.3" stroke="#000" stroke-width="2.2"/>
<line x1="1389.4" y1="1384.3" x2="1389.4" y2="1379.3" stroke="#000" stroke-width="2.2"/>
<line x1="1398.6" y1="1384.3" x2="1398.6" y2="1379.3" stroke="#000" stroke-width="2.2"/>
<line x1="1406.5" y1="1384.3" x2="1406.5" y2="1379.3" stroke="#000" stroke-width="2.2"/>
<line x1="1413.5" y1="1384.3" x2="1413.5" y2="1379.3" stroke="#000" stroke-width="2.2"/>
<text x="1283.7" y="1420.6" font-size="24.5" text-anchor="middle">10<tspan font-size="16.0" dy="-11.0">-1</tspan></text>
<line x1="1419.7" y1="1384.3" x2="1419.7" y2="1374.3" stroke="#000" stroke-width="2.2"/>
<line x1="1419.7" y1="792.2" x2="1419.7" y2="802.2" stroke="#000" stroke-width="2.2"/>
<line x1="1460.8" y1="1384.3" x2="1460.8" y2="1379.3" stroke="#000" stroke-width="2.2"/>
<line x1="1484.8" y1="1384.3" x2="1484.8" y2="1379.3" stroke="#000" stroke-width="2.2"/>
<line x1="1501.9" y1="1384.3" x2="1501.9" y2="1379.3" stroke="#000" stroke-width="2.2"/>
<line x1="1515.1" y1="1384.3" x2="1515.1" y2="1379.3" stroke="#000" stroke-width="2.2"/>
<line x1="1525.9" y1="1384.3" x2="1525.9" y2="1379.3" stroke="#000" stroke-width="2.2"/>
<line x1="1535.1" y1="1384.3" x2="1535.1" y2="1379.3" stroke="#000" stroke-width="2.2"/>
<line x1="1543.0" y1="1384.3" x2="1543.0" y2="1379.3" stroke="#000" stroke-width="2.2"/>
<line x1="1550.0" y1="1384.3" x2="1550.0" y2="1379.3" stroke="#000" stroke-width="2.2"/>
<text x="1420.2" y="1420.6" font-size="24.5" text-anchor="middle">10<tspan font-size="16.0" dy="-11.0">0</tspan></text>
<line x1="1556.2" y1="1384.3" x2="1556.2" y2="1374.3" stroke="#000" stroke-width="2.2"/>
<line x1="1556.2" y1="792.2" x2="1556.2" y2="802.2" stroke="#000" stroke-width="2.2"/>
<line x1="1597.3" y1="1384.3" x2="1597.3" y2="1379.3" stroke="#000" stroke-width="2.2"/>
<line x1="1621.3" y1="1384.3" x2="1621.3" y2="1379.3" stroke="#000" stroke-width="2.2"/>
<line x1="1638.4" y1="1384.3" x2="1638.4" y2="1379.3" stroke="#000" stroke-width="2.2"/>
<line x1="1651.6" y1="1384.3" x2="1651.6" y2="1379.3" stroke="#000" stroke-width="2.2"/>
<line x1="1662.4" y1="1384.3" x2="1662.4" y2="1379.3" stroke="#000" stroke-width="2.2"/>
<line x1="1671.6" y1="1384.3" x2="1671.6" y2="1379.3" stroke="#000" stroke-width="2.2"/>
<line x1="1679.5" y1="1384.3" x2="1679.5" y2="1379.3" stroke="#000" stroke-width="2.2"/>
<line x1="1686.5" y1="1384.3" x2="1686.5" y2="1379.3" stroke="#000" stroke-width="2.2"/>
<text x="1556.7" y="1420.6" font-size="24.5" text-anchor="middle">10<tspan font-size="16.0" dy="-11.0">1</tspan></text>
<line x1="1692.7" y1="1384.3" x2="1692.7" y2="1374.3" stroke="#000" stroke-width="2.2"/>
<line x1="1692.7" y1="792.2" x2="1692.7" y2="802.2" stroke="#000" stroke-width="2.2"/>
<line x1="1733.8" y1="1384.3" x2="1733.8" y2="1379.3" stroke="#000" stroke-width="2.2"/>
<text x="1693.2" y="1420.6" font-size="24.5" text-anchor="middle">10<tspan font-size="16.0" dy="-11.0">2</tspan></text>
<line x1="1010.2" y1="1302.3" x2="1015.2" y2="1302.3" stroke="#000" stroke-width="2.2"/>
<line x1="1010.2" y1="1254.4" x2="1015.2" y2="1254.4" stroke="#000" stroke-width="2.2"/>
<line x1="1010.2" y1="1220.4" x2="1015.2" y2="1220.4" stroke="#000" stroke-width="2.2"/>
<line x1="1010.2" y1="1194.0" x2="1015.2" y2="1194.0" stroke="#000" stroke-width="2.2"/>
<line x1="1010.2" y1="1172.4" x2="1015.2" y2="1172.4" stroke="#000" stroke-width="2.2"/>
<line x1="1010.2" y1="1154.2" x2="1015.2" y2="1154.2" stroke="#000" stroke-width="2.2"/>
<line x1="1010.2" y1="1138.4" x2="1015.2" y2="1138.4" stroke="#000" stroke-width="2.2"/>
<line x1="1010.2" y1="1124.5" x2="1015.2" y2="1124.5" stroke="#000" stroke-width="2.2"/>
<text x="998.0" y="1394.3" font-size="24.5" text-anchor="end">10<tspan font-size="16.0" dy="-11.0">0</tspan></text>
<line x1="1010.2" y1="1112.0" x2="1020.2" y2="1112.0" stroke="#000" stroke-width="2.2"/>
<line x1="1746.9" y1="1112.0" x2="1736.9" y2="1112.0" stroke="#000" stroke-width="2.2"/>
<line x1="1010.2" y1="1030.0" x2="1015.2" y2="1030.0" stroke="#000" stroke-width="2.2"/>
<line x1="1010.2" y1="982.1" x2="1015.2" y2="982.1" stroke="#000" stroke-width="2.2"/>
<line x1="1010.2" y1="948.1" x2="1015.2" y2="948.1" stroke="#000" stroke-width="2.2"/>
<line x1="1010.2" y1="921.7" x2="1015.2" y2="921.7" stroke="#000" stroke-width="2.2"/>
<line x1="1010.2" y1="900.1" x2="1015.2" y2="900.1" stroke="#000" stroke-width="2.2"/>
<line x1="1010.2" y1="881.9" x2="1015.2" y2="881.9" stroke="#000" stroke-width="2.2"/>
<line x1="1010.2" y1="866.1" x2="1015.2" y2="866.1" stroke="#000" stroke-width="2.2"/>
<line x1="1010.2" y1="852.2" x2="1015.2" y2="852.2" stroke="#000" stroke-width="2.2"/>
<text x="998.0" y="1122.0" font-size="24.5" text-anchor="end">10<tspan font-size="16.0" dy="-11.0">1</tspan></text>
<line x1="1010.2" y1="839.7" x2="1020.2" y2="839.7" stroke="#000" stroke-width="2.2"/>
<line x1="1746.9" y1="839.7" x2="1736.9" y2="839.7" stroke="#000" stroke-width="2.2"/>
<text x="998.0" y="849.7" font-size="24.5" text-anchor="end">10<tspan font-size="16.0" dy="-11.0">2</tspan></text>
<text x="1378.7" y="1465.6" font-size="30.6" text-anchor="middle" fill="#000">Mass(g)</text>
<text x="952.0" y="1089.2" font-size="30.5" text-anchor="middle" transform="rotate(-90 952.0 1089.2)" fill="#000">Jump height/Lenght(m/m)</text>
<polygon points="1157.3,919.6 1169.3,931.6 1157.3,943.6 1145.3,931.6" fill="#27a6de" stroke="none" stroke-width="0" stroke-linejoin="round"/>
<polygon points="1447.7,1018.2 1459.7,1030.2 1447.7,1042.2 1435.7,1030.2" fill="#27a6de" stroke="none" stroke-width="0" stroke-linejoin="round"/>
<polygon points="1691.6,1066.4 1703.6,1078.4 1691.6,1090.4 1679.6,1078.4" fill="#27a6de" stroke="none" stroke-width="0" stroke-linejoin="round"/>
<polygon points="1694.9,1126.5 1706.9,1138.5 1694.9,1150.5 1682.9,1138.5" fill="#27a6de" stroke="none" stroke-width="0" stroke-linejoin="round"/>
<polygon points="1556.0,1264.0 1568.0,1276.0 1556.0,1288.0 1544.0,1276.0" fill="#27a6de" stroke="none" stroke-width="0" stroke-linejoin="round"/>
<circle cx="1603.7" cy="832.6" r="10.2" fill="#000" stroke="none" stroke-width="0"/>
<circle cx="1425.0" cy="982.5" r="10.2" fill="#000" stroke="none" stroke-width="0"/>
<circle cx="1534.2" cy="990.5" r="10.2" fill="#000" stroke="none" stroke-width="0"/>
<circle cx="1610.3" cy="1057.6" r="10.2" fill="#000" stroke="none" stroke-width="0"/>
<circle cx="1692.0" cy="1080.8" r="10.2" fill="#000" stroke="none" stroke-width="0"/>
<circle cx="1691.6" cy="1159.3" r="10.2" fill="#000" stroke="none" stroke-width="0"/>
<circle cx="1733.2" cy="1195.2" r="10.2" fill="#000" stroke="none" stroke-width="0"/>
<polygon points="1704.30,937.00 1715.24,944.95 1711.06,957.80 1697.54,957.80 1693.36,944.95" fill="#f772ea" stroke="none" stroke-width="0"/>
<text x="1172.8" y="939.0" font-size="27" text-anchor="start" fill="#000">[27]</text>
<text x="1604.6" y="865.0" font-size="27" text-anchor="middle" fill="#000">[11]</text>
<text x="1427.0" y="969.0" font-size="27" text-anchor="middle" fill="#000">[42]</text>
<text x="1535.0" y="976.0" font-size="27" text-anchor="middle" fill="#000">[21]</text>
<text x="1446.7" y="1068.5" font-size="27" text-anchor="middle" fill="#000">[38]</text>
<text x="1611.0" y="1093.0" font-size="27" text-anchor="middle" fill="#000">[8]</text>
<text x="1698.0" y="1062.8" font-size="27" text-anchor="middle" fill="#000">[26]</text>
<text x="1693.5" y="1114.4" font-size="27" text-anchor="middle" fill="#000">[12]</text>
<text x="1681.5" y="1147.4" font-size="27" text-anchor="end" fill="#000">[24]</text>
<text x="1680.0" y="1190.5" font-size="27" text-anchor="middle" fill="#000">[10]</text>
<text x="1719.5" y="1227.3" font-size="27" text-anchor="middle" fill="#000">[39]</text>
<text x="1575.8" y="1286.0" font-size="27" text-anchor="start" fill="#000">[28]</text>
<rect x="1045.0" y="1146.5" width="393.2" height="124.3" fill="none" stroke="#000" stroke-width="2.4"/>
<polygon points="1095.0,1163.6 1103.0,1171.6 1095.0,1179.6 1087.0,1171.6" fill="#27a6de" stroke="none" stroke-width="0" stroke-linejoin="round"/>
<circle cx="1095.0" cy="1209.0" r="7.2" fill="#000" stroke="none" stroke-width="0"/>
<polygon points="1095.00,1239.30 1102.80,1244.97 1099.82,1254.13 1090.18,1254.13 1087.20,1244.97" fill="#f772ea" stroke="none" stroke-width="0"/>
<text x="1142.8" y="1180.5" font-size="27" text-anchor="start" fill="#000">Jumping–Crawling Robot</text>
<text x="1142.8" y="1217.4" font-size="27" text-anchor="start" fill="#000">Junping Robot</text>
<text x="1142.8" y="1255.0" font-size="27" text-anchor="start" fill="#000">This work</text>
<rect x="1869.7" y="782.6" width="744.5" height="597.8" fill="none" stroke="#000" stroke-width="2.4"/>
<line x1="1915.7" y1="1380.4" x2="1915.7" y2="1370.4" stroke="#000" stroke-width="2.2"/>
<line x1="1915.7" y1="782.6" x2="1915.7" y2="792.6" stroke="#000" stroke-width="2.2"/>
<line x1="1961.4" y1="1380.4" x2="1961.4" y2="1375.4" stroke="#000" stroke-width="2.2"/>
<line x1="1988.2" y1="1380.4" x2="1988.2" y2="1375.4" stroke="#000" stroke-width="2.2"/>
<line x1="2007.2" y1="1380.4" x2="2007.2" y2="1375.4" stroke="#000" stroke-width="2.2"/>
<line x1="2021.9" y1="1380.4" x2="2021.9" y2="1375.4" stroke="#000" stroke-width="2.2"/>
<line x1="2033.9" y1="1380.4" x2="2033.9" y2="1375.4" stroke="#000" stroke-width="2.2"/>
<line x1="2044.1" y1="1380.4" x2="2044.1" y2="1375.4" stroke="#000" stroke-width="2.2"/>
<line x1="2052.9" y1="1380.4" x2="2052.9" y2="1375.4" stroke="#000" stroke-width="2.2"/>
<line x1="2060.6" y1="1380.4" x2="2060.6" y2="1375.4" stroke="#000" stroke-width="2.2"/>
<line x1="1882.0" y1="1380.4" x2="1882.0" y2="1375.4" stroke="#000" stroke-width="2.2"/>
<line x1="1892.2" y1="1380.4" x2="1892.2" y2="1375.4" stroke="#000" stroke-width="2.2"/>
<line x1="1901.0" y1="1380.4" x2="1901.0" y2="1375.4" stroke="#000" stroke-width="2.2"/>
<line x1="1908.7" y1="1380.4" x2="1908.7" y2="1375.4" stroke="#000" stroke-width="2.2"/>
<text x="1916.2" y="1415.6" font-size="24.5" text-anchor="middle">10<tspan font-size="16.0" dy="-11.0">-2</tspan></text>
<line x1="2067.6" y1="1380.4" x2="2067.6" y2="1370.4" stroke="#000" stroke-width="2.2"/>
<line x1="2067.6" y1="782.6" x2="2067.6" y2="792.6" stroke="#000" stroke-width="2.2"/>
<line x1="2113.3" y1="1380.4" x2="2113.3" y2="1375.4" stroke="#000" stroke-width="2.2"/>
<line x1="2140.1" y1="1380.4" x2="2140.1" y2="1375.4" stroke="#000" stroke-width="2.2"/>
<line x1="2159.1" y1="1380.4" x2="2159.1" y2="1375.4" stroke="#000" stroke-width="2.2"/>
<line x1="2173.8" y1="1380.4" x2="2173.8" y2="1375.4" stroke="#000" stroke-width="2.2"/>
<line x1="2185.8" y1="1380.4" x2="2185.8" y2="1375.4" stroke="#000" stroke-width="2.2"/>
<line x1="2196.0" y1="1380.4" x2="2196.0" y2="1375.4" stroke="#000" stroke-width="2.2"/>
<line x1="2204.8" y1="1380.4" x2="2204.8" y2="1375.4" stroke="#000" stroke-width="2.2"/>
<line x1="2212.5" y1="1380.4" x2="2212.5" y2="1375.4" stroke="#000" stroke-width="2.2"/>
<text x="2068.1" y="1415.6" font-size="24.5" text-anchor="middle">10<tspan font-size="16.0" dy="-11.0">-1</tspan></text>
<line x1="2219.5" y1="1380.4" x2="2219.5" y2="1370.4" stroke="#000" stroke-width="2.2"/>
<line x1="2219.5" y1="782.6" x2="2219.5" y2="792.6" stroke="#000" stroke-width="2.2"/>
<line x1="2265.2" y1="1380.4" x2="2265.2" y2="1375.4" stroke="#000" stroke-width="2.2"/>
<line x1="2292.0" y1="1380.4" x2="2292.0" y2="1375.4" stroke="#000" stroke-width="2.2"/>
<line x1="2311.0" y1="1380.4" x2="2311.0" y2="1375.4" stroke="#000" stroke-width="2.2"/>
<line x1="2325.7" y1="1380.4" x2="2325.7" y2="1375.4" stroke="#000" stroke-width="2.2"/>
<line x1="2337.7" y1="1380.4" x2="2337.7" y2="1375.4" stroke="#000" stroke-width="2.2"/>
<line x1="2347.9" y1="1380.4" x2="2347.9" y2="1375.4" stroke="#000" stroke-width="2.2"/>
<line x1="2356.7" y1="1380.4" x2="2356.7" y2="1375.4" stroke="#000" stroke-width="2.2"/>
<line x1="2364.4" y1="1380.4" x2="2364.4" y2="1375.4" stroke="#000" stroke-width="2.2"/>
<text x="2220.0" y="1415.6" font-size="24.5" text-anchor="middle">10<tspan font-size="16.0" dy="-11.0">0</tspan></text>
<line x1="2371.4" y1="1380.4" x2="2371.4" y2="1370.4" stroke="#000" stroke-width="2.2"/>
<line x1="2371.4" y1="782.6" x2="2371.4" y2="792.6" stroke="#000" stroke-width="2.2"/>
<line x1="2417.1" y1="1380.4" x2="2417.1" y2="1375.4" stroke="#000" stroke-width="2.2"/>
<line x1="2443.9" y1="1380.4" x2="2443.9" y2="1375.4" stroke="#000" stroke-width="2.2"/>
<line x1="2462.9" y1="1380.4" x2="2462.9" y2="1375.4" stroke="#000" stroke-width="2.2"/>
<line x1="2477.6" y1="1380.4" x2="2477.6" y2="1375.4" stroke="#000" stroke-width="2.2"/>
<line x1="2489.6" y1="1380.4" x2="2489.6" y2="1375.4" stroke="#000" stroke-width="2.2"/>
<line x1="2499.8" y1="1380.4" x2="2499.8" y2="1375.4" stroke="#000" stroke-width="2.2"/>
<line x1="2508.6" y1="1380.4" x2="2508.6" y2="1375.4" stroke="#000" stroke-width="2.2"/>
<line x1="2516.3" y1="1380.4" x2="2516.3" y2="1375.4" stroke="#000" stroke-width="2.2"/>
<text x="2371.9" y="1415.6" font-size="24.5" text-anchor="middle">10<tspan font-size="16.0" dy="-11.0">1</tspan></text>
<line x1="2523.3" y1="1380.4" x2="2523.3" y2="1370.4" stroke="#000" stroke-width="2.2"/>
<line x1="2523.3" y1="782.6" x2="2523.3" y2="792.6" stroke="#000" stroke-width="2.2"/>
<line x1="2569.0" y1="1380.4" x2="2569.0" y2="1375.4" stroke="#000" stroke-width="2.2"/>
<line x1="2595.8" y1="1380.4" x2="2595.8" y2="1375.4" stroke="#000" stroke-width="2.2"/>
<text x="2523.8" y="1415.6" font-size="24.5" text-anchor="middle">10<tspan font-size="16.0" dy="-11.0">2</tspan></text>
<line x1="1869.7" y1="1225.4" x2="1879.7" y2="1225.4" stroke="#000" stroke-width="2.2"/>
<line x1="2614.2" y1="1225.4" x2="2604.2" y2="1225.4" stroke="#000" stroke-width="2.2"/>
<line x1="1869.7" y1="1158.8" x2="1874.7" y2="1158.8" stroke="#000" stroke-width="2.2"/>
<line x1="1869.7" y1="1119.8" x2="1874.7" y2="1119.8" stroke="#000" stroke-width="2.2"/>
<line x1="1869.7" y1="1092.1" x2="1874.7" y2="1092.1" stroke="#000" stroke-width="2.2"/>
<line x1="1869.7" y1="1070.6" x2="1874.7" y2="1070.6" stroke="#000" stroke-width="2.2"/>
<line x1="1869.7" y1="1053.1" x2="1874.7" y2="1053.1" stroke="#000" stroke-width="2.2"/>
<line x1="1869.7" y1="1038.3" x2="1874.7" y2="1038.3" stroke="#000" stroke-width="2.2"/>
<line x1="1869.7" y1="1025.5" x2="1874.7" y2="1025.5" stroke="#000" stroke-width="2.2"/>
<line x1="1869.7" y1="1014.1" x2="1874.7" y2="1014.1" stroke="#000" stroke-width="2.2"/>
<line x1="1869.7" y1="1341.2" x2="1874.7" y2="1341.2" stroke="#000" stroke-width="2.2"/>
<line x1="1869.7" y1="1313.5" x2="1874.7" y2="1313.5" stroke="#000" stroke-width="2.2"/>
<line x1="1869.7" y1="1292.0" x2="1874.7" y2="1292.0" stroke="#000" stroke-width="2.2"/>
<line x1="1869.7" y1="1274.5" x2="1874.7" y2="1274.5" stroke="#000" stroke-width="2.2"/>
<line x1="1869.7" y1="1259.7" x2="1874.7" y2="1259.7" stroke="#000" stroke-width="2.2"/>
<line x1="1869.7" y1="1246.9" x2="1874.7" y2="1246.9" stroke="#000" stroke-width="2.2"/>
<line x1="1869.7" y1="1235.5" x2="1874.7" y2="1235.5" stroke="#000" stroke-width="2.2"/>
<text x="1859.0" y="1235.4" font-size="24.5" text-anchor="end">10<tspan font-size="16.0" dy="-11.0">-2</tspan></text>
<line x1="1869.7" y1="1004.0" x2="1879.7" y2="1004.0" stroke="#000" stroke-width="2.2"/>
<line x1="2614.2" y1="1004.0" x2="2604.2" y2="1004.0" stroke="#000" stroke-width="2.2"/>
<line x1="1869.7" y1="937.4" x2="1874.7" y2="937.4" stroke="#000" stroke-width="2.2"/>
<line x1="1869.7" y1="898.4" x2="1874.7" y2="898.4" stroke="#000" stroke-width="2.2"/>
<line x1="1869.7" y1="870.7" x2="1874.7" y2="870.7" stroke="#000" stroke-width="2.2"/>
<line x1="1869.7" y1="849.2" x2="1874.7" y2="849.2" stroke="#000" stroke-width="2.2"/>
<line x1="1869.7" y1="831.7" x2="1874.7" y2="831.7" stroke="#000" stroke-width="2.2"/>
<line x1="1869.7" y1="816.9" x2="1874.7" y2="816.9" stroke="#000" stroke-width="2.2"/>
<line x1="1869.7" y1="804.1" x2="1874.7" y2="804.1" stroke="#000" stroke-width="2.2"/>
<line x1="1869.7" y1="792.7" x2="1874.7" y2="792.7" stroke="#000" stroke-width="2.2"/>
<text x="1859.0" y="1014.0" font-size="24.5" text-anchor="end">10<tspan font-size="16.0" dy="-11.0">-1</tspan></text>
<text x="1859.0" y="792.6" font-size="24.5" text-anchor="end">10<tspan font-size="16.0" dy="-11.0">0</tspan></text>
<text x="2241.2" y="1459.5" font-size="27.5" text-anchor="middle" fill="#000">Mass(g)</text>
<text x="1805.5" y="1082.4" font-size="28" text-anchor="middle" transform="rotate(-90 1805.5 1082.4)" fill="#000">Jump height/Mass(m/g)</text>
<polygon points="2522.0,976.9 2534.0,988.9 2522.0,1000.9 2510.0,988.9" fill="#27a6de" stroke="none" stroke-width="0" stroke-linejoin="round"/>
<polygon points="2528.6,994.0 2540.6,1006.0 2528.6,1018.0 2516.6,1006.0" fill="#27a6de" stroke="none" stroke-width="0" stroke-linejoin="round"/>
<polygon points="2370.8,1047.3 2382.8,1059.3 2370.8,1071.3 2358.8,1059.3" fill="#27a6de" stroke="none" stroke-width="0" stroke-linejoin="round"/>
<polygon points="2250.0,1109.3 2262.0,1121.3 2250.0,1133.3 2238.0,1121.3" fill="#27a6de" stroke="none" stroke-width="0" stroke-linejoin="round"/>
<polygon points="1927.5,1316.6 1939.5,1328.6 1927.5,1340.6 1915.5,1328.6" fill="#27a6de" stroke="none" stroke-width="0" stroke-linejoin="round"/>
<circle cx="2424.4" cy="897.8" r="10.2" fill="#000" stroke="none" stroke-width="0"/>
<circle cx="2522.5" cy="964.9" r="10.2" fill="#000" stroke="none" stroke-width="0"/>
<circle cx="2567.9" cy="990.3" r="10.2" fill="#000" stroke="none" stroke-width="0"/>
<circle cx="2522.5" cy="1003.7" r="10.2" fill="#000" stroke="none" stroke-width="0"/>
<circle cx="2431.8" cy="1013.9" r="10.2" fill="#000" stroke="none" stroke-width="0"/>
<circle cx="2346.7" cy="1070.4" r="10.2" fill="#000" stroke="none" stroke-width="0"/>
<circle cx="2225.0" cy="1158.7" r="10.2" fill="#000" stroke="none" stroke-width="0"/>
<polygon points="2536.90,1020.00 2547.84,1027.95 2543.66,1040.80 2530.14,1040.80 2525.96,1027.95" fill="#f772ea" stroke="none" stroke-width="0"/>
<text x="2412.4" y="906.6" font-size="27" text-anchor="end" fill="#000">[11]</text>
<text x="2509.6" y="971.4" font-size="27" text-anchor="end" fill="#000">[10]</text>
<text x="2545.2" y="976.9" font-size="27" text-anchor="start" fill="#000">[39]</text>
<text x="2509.6" y="1002.8" font-size="27" text-anchor="end" fill="#000">[26]</text>
<text x="2542.0" y="1017.6" font-size="27" text-anchor="start" fill="#000">[24]</text>
<text x="2418.9" y="1021.3" font-size="27" text-anchor="end" fill="#000">[8]</text>
<text x="2514.2" y="1031.5" font-size="27" text-anchor="end" fill="#000">[12]</text>
<text x="2385.6" y="1069.4" font-size="27" text-anchor="start" fill="#000">[28]</text>
<text x="2333.8" y="1081.0" font-size="27" text-anchor="end" fill="#000">[21]</text>
<text x="2266.7" y="1128.7" font-size="27" text-anchor="start" fill="#000">[38]</text>
<text x="2217.2" y="1165.7" font-size="27" text-anchor="end" fill="#000">[42]</text>
<text x="1943.7" y="1336.9" font-size="27" text-anchor="start" fill="#000">[27]</text>
<rect x="1900.7" y="837.2" width="393.3" height="123.1" fill="none" stroke="#000" stroke-width="2.4"/>
<polygon points="1949.7,853.7 1957.7,861.7 1949.7,869.7 1941.7,861.7" fill="#27a6de" stroke="none" stroke-width="0" stroke-linejoin="round"/>
<circle cx="1949.7" cy="898.2" r="7.2" fill="#000" stroke="none" stroke-width="0"/>
<polygon points="1949.70,928.30 1957.50,933.97 1954.52,943.13 1944.88,943.13 1941.90,933.97" fill="#f772ea" stroke="none" stroke-width="0"/>
<text x="1998.3" y="870.5" font-size="27" text-anchor="start" fill="#000">Jumping–Crawling Robot</text>
<text x="1998.3" y="906.6" font-size="27" text-anchor="start" fill="#000">Junping Robot</text>
<text x="1998.3" y="943.6" font-size="27" text-anchor="start" fill="#000">This work</text>
<rect x="182.4" y="1501.0" width="2426.0" height="1042.0" fill="none" stroke="#000" stroke-width="4.6"/>
<line x1="256.6" y1="2543.0" x2="256.6" y2="2527.0" stroke="#000" stroke-width="3.4"/>
<line x1="256.6" y1="1501.0" x2="256.6" y2="1517.0" stroke="#000" stroke-width="3.4"/>
<line x1="357.7" y1="2543.0" x2="357.7" y2="2535.0" stroke="#000" stroke-width="3.2"/>
<line x1="416.9" y1="2543.0" x2="416.9" y2="2535.0" stroke="#000" stroke-width="3.2"/>
<line x1="458.8" y1="2543.0" x2="458.8" y2="2535.0" stroke="#000" stroke-width="3.2"/>
<line x1="491.4" y1="2543.0" x2="491.4" y2="2535.0" stroke="#000" stroke-width="3.2"/>
<line x1="518.0" y1="2543.0" x2="518.0" y2="2535.0" stroke="#000" stroke-width="3.2"/>
<line x1="204.6" y1="2543.0" x2="204.6" y2="2535.0" stroke="#000" stroke-width="3.2"/>
<line x1="540.5" y1="2543.0" x2="540.5" y2="2535.0" stroke="#000" stroke-width="3.2"/>
<line x1="224.0" y1="2543.0" x2="224.0" y2="2535.0" stroke="#000" stroke-width="3.2"/>
<line x1="559.9" y1="2543.0" x2="559.9" y2="2535.0" stroke="#000" stroke-width="3.2"/>
<line x1="241.2" y1="2543.0" x2="241.2" y2="2535.0" stroke="#000" stroke-width="3.2"/>
<line x1="577.1" y1="2543.0" x2="577.1" y2="2535.0" stroke="#000" stroke-width="3.2"/>
<text x="264.6" y="2602.9" font-size="44" font-weight="bold" text-anchor="middle">10<tspan font-size="29" dy="-17">-4</tspan></text>
<line x1="592.5" y1="2543.0" x2="592.5" y2="2527.0" stroke="#000" stroke-width="3.4"/>
<line x1="592.5" y1="1501.0" x2="592.5" y2="1517.0" stroke="#000" stroke-width="3.4"/>
<line x1="693.6" y1="2543.0" x2="693.6" y2="2535.0" stroke="#000" stroke-width="3.2"/>
<line x1="752.8" y1="2543.0" x2="752.8" y2="2535.0" stroke="#000" stroke-width="3.2"/>
<line x1="794.7" y1="2543.0" x2="794.7" y2="2535.0" stroke="#000" stroke-width="3.2"/>
<line x1="827.3" y1="2543.0" x2="827.3" y2="2535.0" stroke="#000" stroke-width="3.2"/>
<line x1="853.9" y1="2543.0" x2="853.9" y2="2535.0" stroke="#000" stroke-width="3.2"/>
<line x1="876.4" y1="2543.0" x2="876.4" y2="2535.0" stroke="#000" stroke-width="3.2"/>
<line x1="895.8" y1="2543.0" x2="895.8" y2="2535.0" stroke="#000" stroke-width="3.2"/>
<line x1="913.0" y1="2543.0" x2="913.0" y2="2535.0" stroke="#000" stroke-width="3.2"/>
<text x="600.5" y="2602.9" font-size="44" font-weight="bold" text-anchor="middle">10<tspan font-size="29" dy="-17">-3</tspan></text>
<line x1="928.4" y1="2543.0" x2="928.4" y2="2527.0" stroke="#000" stroke-width="3.4"/>
<line x1="928.4" y1="1501.0" x2="928.4" y2="1517.0" stroke="#000" stroke-width="3.4"/>
<line x1="1029.5" y1="2543.0" x2="1029.5" y2="2535.0" stroke="#000" stroke-width="3.2"/>
<line x1="1088.7" y1="2543.0" x2="1088.7" y2="2535.0" stroke="#000" stroke-width="3.2"/>
<line x1="1130.6" y1="2543.0" x2="1130.6" y2="2535.0" stroke="#000" stroke-width="3.2"/>
<line x1="1163.2" y1="2543.0" x2="1163.2" y2="2535.0" stroke="#000" stroke-width="3.2"/>
<line x1="1189.8" y1="2543.0" x2="1189.8" y2="2535.0" stroke="#000" stroke-width="3.2"/>
<line x1="1212.3" y1="2543.0" x2="1212.3" y2="2535.0" stroke="#000" stroke-width="3.2"/>
<line x1="1231.7" y1="2543.0" x2="1231.7" y2="2535.0" stroke="#000" stroke-width="3.2"/>
<line x1="1248.9" y1="2543.0" x2="1248.9" y2="2535.0" stroke="#000" stroke-width="3.2"/>
<text x="936.4" y="2602.9" font-size="44" font-weight="bold" text-anchor="middle">10<tspan font-size="29" dy="-17">-2</tspan></text>
<line x1="1264.3" y1="2543.0" x2="1264.3" y2="2527.0" stroke="#000" stroke-width="3.4"/>
<line x1="1264.3" y1="1501.0" x2="1264.3" y2="1517.0" stroke="#000" stroke-width="3.4"/>
<line x1="1365.4" y1="2543.0" x2="1365.4" y2="2535.0" stroke="#000" stroke-width="3.2"/>
<line x1="1424.6" y1="2543.0" x2="1424.6" y2="2535.0" stroke="#000" stroke-width="3.2"/>
<line x1="1466.5" y1="2543.0" x2="1466.5" y2="2535.0" stroke="#000" stroke-width="3.2"/>
<line x1="1499.1" y1="2543.0" x2="1499.1" y2="2535.0" stroke="#000" stroke-width="3.2"/>
<line x1="1525.7" y1="2543.0" x2="1525.7" y2="2535.0" stroke="#000" stroke-width="3.2"/>
<line x1="1548.2" y1="2543.0" x2="1548.2" y2="2535.0" stroke="#000" stroke-width="3.2"/>
<line x1="1567.6" y1="2543.0" x2="1567.6" y2="2535.0" stroke="#000" stroke-width="3.2"/>
<line x1="1584.8" y1="2543.0" x2="1584.8" y2="2535.0" stroke="#000" stroke-width="3.2"/>
<text x="1272.3" y="2602.9" font-size="44" font-weight="bold" text-anchor="middle">10<tspan font-size="29" dy="-17">-1</tspan></text>
<line x1="1600.2" y1="2543.0" x2="1600.2" y2="2527.0" stroke="#000" stroke-width="3.4"/>
<line x1="1600.2" y1="1501.0" x2="1600.2" y2="1517.0" stroke="#000" stroke-width="3.4"/>
<line x1="1701.3" y1="2543.0" x2="1701.3" y2="2535.0" stroke="#000" stroke-width="3.2"/>
<line x1="1760.5" y1="2543.0" x2="1760.5" y2="2535.0" stroke="#000" stroke-width="3.2"/>
<line x1="1802.4" y1="2543.0" x2="1802.4" y2="2535.0" stroke="#000" stroke-width="3.2"/>
<line x1="1835.0" y1="2543.0" x2="1835.0" y2="2535.0" stroke="#000" stroke-width="3.2"/>
<line x1="1861.6" y1="2543.0" x2="1861.6" y2="2535.0" stroke="#000" stroke-width="3.2"/>
<line x1="1884.1" y1="2543.0" x2="1884.1" y2="2535.0" stroke="#000" stroke-width="3.2"/>
<line x1="1903.5" y1="2543.0" x2="1903.5" y2="2535.0" stroke="#000" stroke-width="3.2"/>
<line x1="1920.7" y1="2543.0" x2="1920.7" y2="2535.0" stroke="#000" stroke-width="3.2"/>
<text x="1608.2" y="2602.9" font-size="44" font-weight="bold" text-anchor="middle">10<tspan font-size="29" dy="-17">0</tspan></text>
<line x1="1936.1" y1="2543.0" x2="1936.1" y2="2527.0" stroke="#000" stroke-width="3.4"/>
<line x1="1936.1" y1="1501.0" x2="1936.1" y2="1517.0" stroke="#000" stroke-width="3.4"/>
<line x1="2037.2" y1="2543.0" x2="2037.2" y2="2535.0" stroke="#000" stroke-width="3.2"/>
<line x1="2096.4" y1="2543.0" x2="2096.4" y2="2535.0" stroke="#000" stroke-width="3.2"/>
<line x1="2138.3" y1="2543.0" x2="2138.3" y2="2535.0" stroke="#000" stroke-width="3.2"/>
<line x1="2170.9" y1="2543.0" x2="2170.9" y2="2535.0" stroke="#000" stroke-width="3.2"/>
<line x1="2197.5" y1="2543.0" x2="2197.5" y2="2535.0" stroke="#000" stroke-width="3.2"/>
<line x1="2220.0" y1="2543.0" x2="2220.0" y2="2535.0" stroke="#000" stroke-width="3.2"/>
<line x1="2239.4" y1="2543.0" x2="2239.4" y2="2535.0" stroke="#000" stroke-width="3.2"/>
<line x1="2256.6" y1="2543.0" x2="2256.6" y2="2535.0" stroke="#000" stroke-width="3.2"/>
<text x="1944.1" y="2602.9" font-size="44" font-weight="bold" text-anchor="middle">10<tspan font-size="29" dy="-17">1</tspan></text>
<line x1="2272.0" y1="2543.0" x2="2272.0" y2="2527.0" stroke="#000" stroke-width="3.4"/>
<line x1="2272.0" y1="1501.0" x2="2272.0" y2="1517.0" stroke="#000" stroke-width="3.4"/>
<line x1="2373.1" y1="2543.0" x2="2373.1" y2="2535.0" stroke="#000" stroke-width="3.2"/>
<line x1="2432.3" y1="2543.0" x2="2432.3" y2="2535.0" stroke="#000" stroke-width="3.2"/>
<line x1="2474.2" y1="2543.0" x2="2474.2" y2="2535.0" stroke="#000" stroke-width="3.2"/>
<line x1="2506.8" y1="2543.0" x2="2506.8" y2="2535.0" stroke="#000" stroke-width="3.2"/>
<line x1="2533.4" y1="2543.0" x2="2533.4" y2="2535.0" stroke="#000" stroke-width="3.2"/>
<line x1="2555.9" y1="2543.0" x2="2555.9" y2="2535.0" stroke="#000" stroke-width="3.2"/>
<line x1="2575.3" y1="2543.0" x2="2575.3" y2="2535.0" stroke="#000" stroke-width="3.2"/>
<line x1="2592.5" y1="2543.0" x2="2592.5" y2="2535.0" stroke="#000" stroke-width="3.2"/>
<text x="2280.0" y="2602.9" font-size="44" font-weight="bold" text-anchor="middle">10<tspan font-size="29" dy="-17">2</tspan></text>
<text x="2581" y="2602.9" font-size="44" font-weight="bold">10<tspan font-size="29" dy="-17">3</tspan></text>
<line x1="182.4" y1="2499.1" x2="198.4" y2="2499.1" stroke="#000" stroke-width="3.4"/>
<line x1="2608.4" y1="2499.1" x2="2592.4" y2="2499.1" stroke="#000" stroke-width="3.4"/>
<line x1="182.4" y1="2439.0" x2="190.4" y2="2439.0" stroke="#000" stroke-width="3.2"/>
<line x1="182.4" y1="2403.9" x2="190.4" y2="2403.9" stroke="#000" stroke-width="3.2"/>
<line x1="182.4" y1="2378.9" x2="190.4" y2="2378.9" stroke="#000" stroke-width="3.2"/>
<line x1="182.4" y1="2359.6" x2="190.4" y2="2359.6" stroke="#000" stroke-width="3.2"/>
<line x1="182.4" y1="2343.8" x2="190.4" y2="2343.8" stroke="#000" stroke-width="3.2"/>
<line x1="182.4" y1="2530.0" x2="190.4" y2="2530.0" stroke="#000" stroke-width="3.2"/>
<line x1="182.4" y1="2330.4" x2="190.4" y2="2330.4" stroke="#000" stroke-width="3.2"/>
<line x1="182.4" y1="2518.4" x2="190.4" y2="2518.4" stroke="#000" stroke-width="3.2"/>
<line x1="182.4" y1="2318.8" x2="190.4" y2="2318.8" stroke="#000" stroke-width="3.2"/>
<line x1="182.4" y1="2508.2" x2="190.4" y2="2508.2" stroke="#000" stroke-width="3.2"/>
<line x1="182.4" y1="2308.6" x2="190.4" y2="2308.6" stroke="#000" stroke-width="3.2"/>
<text x="164" y="2516.5" font-size="44" font-weight="bold" text-anchor="end">10<tspan font-size="29" dy="-17">-3</tspan></text>
<line x1="182.4" y1="2299.5" x2="198.4" y2="2299.5" stroke="#000" stroke-width="3.4"/>
<line x1="2608.4" y1="2299.5" x2="2592.4" y2="2299.5" stroke="#000" stroke-width="3.4"/>
<line x1="182.4" y1="2239.4" x2="190.4" y2="2239.4" stroke="#000" stroke-width="3.2"/>
<line x1="182.4" y1="2204.3" x2="190.4" y2="2204.3" stroke="#000" stroke-width="3.2"/>
<line x1="182.4" y1="2179.3" x2="190.4" y2="2179.3" stroke="#000" stroke-width="3.2"/>
<line x1="182.4" y1="2160.0" x2="190.4" y2="2160.0" stroke="#000" stroke-width="3.2"/>
<line x1="182.4" y1="2144.2" x2="190.4" y2="2144.2" stroke="#000" stroke-width="3.2"/>
<line x1="182.4" y1="2130.8" x2="190.4" y2="2130.8" stroke="#000" stroke-width="3.2"/>
<line x1="182.4" y1="2119.2" x2="190.4" y2="2119.2" stroke="#000" stroke-width="3.2"/>
<line x1="182.4" y1="2109.0" x2="190.4" y2="2109.0" stroke="#000" stroke-width="3.2"/>
<text x="164" y="2316.9" font-size="44" font-weight="bold" text-anchor="end">10<tspan font-size="29" dy="-17">-2</tspan></text>
<line x1="182.4" y1="2099.9" x2="198.4" y2="2099.9" stroke="#000" stroke-width="3.4"/>
<line x1="2608.4" y1="2099.9" x2="2592.4" y2="2099.9" stroke="#000" stroke-width="3.4"/>
<line x1="182.4" y1="2039.8" x2="190.4" y2="2039.8" stroke="#000" stroke-width="3.2"/>
<line x1="182.4" y1="2004.7" x2="190.4" y2="2004.7" stroke="#000" stroke-width="3.2"/>
<line x1="182.4" y1="1979.7" x2="190.4" y2="1979.7" stroke="#000" stroke-width="3.2"/>
<line x1="182.4" y1="1960.4" x2="190.4" y2="1960.4" stroke="#000" stroke-width="3.2"/>
<line x1="182.4" y1="1944.6" x2="190.4" y2="1944.6" stroke="#000" stroke-width="3.2"/>
<line x1="182.4" y1="1931.2" x2="190.4" y2="1931.2" stroke="#000" stroke-width="3.2"/>
<line x1="182.4" y1="1919.6" x2="190.4" y2="1919.6" stroke="#000" stroke-width="3.2"/>
<line x1="182.4" y1="1909.4" x2="190.4" y2="1909.4" stroke="#000" stroke-width="3.2"/>
<text x="164" y="2117.3" font-size="44" font-weight="bold" text-anchor="end">10<tspan font-size="29" dy="-17">-1</tspan></text>
<line x1="182.4" y1="1900.3" x2="198.4" y2="1900.3" stroke="#000" stroke-width="3.4"/>
<line x1="2608.4" y1="1900.3" x2="2592.4" y2="1900.3" stroke="#000" stroke-width="3.4"/>
<line x1="182.4" y1="1840.2" x2="190.4" y2="1840.2" stroke="#000" stroke-width="3.2"/>
<line x1="182.4" y1="1805.1" x2="190.4" y2="1805.1" stroke="#000" stroke-width="3.2"/>
<line x1="182.4" y1="1780.1" x2="190.4" y2="1780.1" stroke="#000" stroke-width="3.2"/>
<line x1="182.4" y1="1760.8" x2="190.4" y2="1760.8" stroke="#000" stroke-width="3.2"/>
<line x1="182.4" y1="1745.0" x2="190.4" y2="1745.0" stroke="#000" stroke-width="3.2"/>
<line x1="182.4" y1="1731.6" x2="190.4" y2="1731.6" stroke="#000" stroke-width="3.2"/>
<line x1="182.4" y1="1720.0" x2="190.4" y2="1720.0" stroke="#000" stroke-width="3.2"/>
<line x1="182.4" y1="1709.8" x2="190.4" y2="1709.8" stroke="#000" stroke-width="3.2"/>
<text x="164" y="1917.7" font-size="44" font-weight="bold" text-anchor="end">10<tspan font-size="29" dy="-17">0</tspan></text>
<line x1="182.4" y1="1700.7" x2="198.4" y2="1700.7" stroke="#000" stroke-width="3.4"/>
<line x1="2608.4" y1="1700.7" x2="2592.4" y2="1700.7" stroke="#000" stroke-width="3.4"/>
<line x1="182.4" y1="1640.6" x2="190.4" y2="1640.6" stroke="#000" stroke-width="3.2"/>
<line x1="182.4" y1="1605.5" x2="190.4" y2="1605.5" stroke="#000" stroke-width="3.2"/>
<line x1="182.4" y1="1580.5" x2="190.4" y2="1580.5" stroke="#000" stroke-width="3.2"/>
<line x1="182.4" y1="1561.2" x2="190.4" y2="1561.2" stroke="#000" stroke-width="3.2"/>
<line x1="182.4" y1="1545.4" x2="190.4" y2="1545.4" stroke="#000" stroke-width="3.2"/>
<line x1="182.4" y1="1532.0" x2="190.4" y2="1532.0" stroke="#000" stroke-width="3.2"/>
<line x1="182.4" y1="1520.4" x2="190.4" y2="1520.4" stroke="#000" stroke-width="3.2"/>
<line x1="182.4" y1="1510.2" x2="190.4" y2="1510.2" stroke="#000" stroke-width="3.2"/>
<text x="164" y="1718.1" font-size="44" font-weight="bold" text-anchor="end">10<tspan font-size="29" dy="-17">1</tspan></text>
<text x="164" y="1518.5" font-size="44" font-weight="bold" text-anchor="end">10<tspan font-size="29" dy="-17">2</tspan></text>
<text x="1394.9" y="2670.3" font-size="46" text-anchor="middle" fill="#000">Mass (g)</text>
<text x="77.2" y="2022.4" font-size="46.8" text-anchor="middle" transform="rotate(-90 77.2 2022.4)" fill="#000">Height (m)</text>
<rect x="291.2" y="1552.4" width="509.8" height="204.1" fill="none" stroke="#000" stroke-width="2.6"/>
<polygon points="326.6,1567.9 349.1,1590.4 326.6,1612.9 304.1,1590.4" fill="none" stroke="#a3263a" stroke-width="6.5" stroke-linejoin="round"/>
<circle cx="326.2" cy="1655.8" r="16.9" fill="none" stroke="#7f00ff" stroke-width="7"/>
<polygon points="327.70,1695.80 332.99,1712.12 350.14,1712.11 336.26,1722.18 341.57,1738.49 327.70,1728.40 313.83,1738.49 319.14,1722.18 305.26,1712.11 322.41,1712.12" fill="#fff" stroke="#ff0000" stroke-width="8.4" stroke-linejoin="round"/>
<g stroke-linejoin="round"></g>
<text x="374.8" y="1602.9" font-size="47" text-anchor="start" fill="#000">Insect jumper</text>
<text x="374.8" y="1669.5" font-size="47" text-anchor="start" fill="#000">Engineering jumper</text>
<text x="374.8" y="1736.0" font-size="47" text-anchor="start" fill="#000">This work</text>
<rect x="2217.8" y="1838.8" width="96.9" height="108.6" fill="none" stroke="#b00000" stroke-width="4.6" stroke-dasharray="6,11.5" stroke-linecap="round"/>
<line x1="2216" y1="1840" x2="1658" y2="2099.2" stroke="#b00000" stroke-width="4.6" stroke-dasharray="6,11.5" stroke-linecap="round"/>
<line x1="2315" y1="1948" x2="2372.5" y2="2099.2" stroke="#b00000" stroke-width="4.6" stroke-dasharray="6,11.5" stroke-linecap="round"/>
<rect x="1658" y="2099.2" width="714.5" height="390" fill="none" stroke="#b00000" stroke-width="4.6" stroke-dasharray="6,11.5" stroke-linecap="round"/>
<polygon points="954.7,1908.4 977.2,1930.9 954.7,1953.4 932.2,1930.9" fill="none" stroke="#a3263a" stroke-width="6.5" stroke-linejoin="round"/>
<polygon points="315.5,2461.2 338.0,2483.7 315.5,2506.2 293.0,2483.7" fill="none" stroke="#a3263a" stroke-width="6.5" stroke-linejoin="round"/>
<polygon points="540.0,2441.7 562.5,2464.2 540.0,2486.7 517.5,2464.2" fill="none" stroke="#a3263a" stroke-width="6.5" stroke-linejoin="round"/>
<polygon points="1917.2,1809.2 1939.7,1831.7 1917.2,1854.2 1894.7,1831.7" fill="none" stroke="#a3263a" stroke-width="6.5" stroke-linejoin="round"/>
<polygon points="1686.2,1881.7 1708.7,1904.2 1686.2,1926.7 1663.7,1904.2" fill="none" stroke="#a3263a" stroke-width="6.5" stroke-linejoin="round"/>
<polygon points="1614.3,1916.4 1636.8,1938.9 1614.3,1961.4 1591.8,1938.9" fill="none" stroke="#a3263a" stroke-width="6.5" stroke-linejoin="round"/>
<circle cx="954.7" cy="2061.2" r="16.6" fill="none" stroke="#7f00ff" stroke-width="6.6"/>
<circle cx="2054.2" cy="1599.6" r="16.6" fill="none" stroke="#7f00ff" stroke-width="6.6"/>
<circle cx="2069.5" cy="1868.9" r="16.6" fill="none" stroke="#7f00ff" stroke-width="6.6"/>
<circle cx="1883.8" cy="1870.5" r="16.6" fill="none" stroke="#7f00ff" stroke-width="6.6"/>
<circle cx="1668.8" cy="1945.8" r="16.6" fill="none" stroke="#7f00ff" stroke-width="6.6"/>
<circle cx="2373.0" cy="1949.0" r="16.6" fill="none" stroke="#7f00ff" stroke-width="6.6"/>
<circle cx="1935.8" cy="2070.3" r="16.6" fill="none" stroke="#7f00ff" stroke-width="6.6"/>
<circle cx="2270.6" cy="1862.3" r="16.6" fill="none" stroke="#7f00ff" stroke-width="6.6"/>
<circle cx="2273.0" cy="1877.2" r="16.6" fill="none" stroke="#7f00ff" stroke-width="6.6"/>
<circle cx="2272.2" cy="1898.8" r="16.6" fill="none" stroke="#7f00ff" stroke-width="6.6"/>
<circle cx="2279.0" cy="1919.8" r="16.6" fill="none" stroke="#7f00ff" stroke-width="6.6"/>
<circle cx="2250.8" cy="2153.9" r="35.5" fill="none" stroke="#7f00ff" stroke-width="16"/>
<circle cx="2260.8" cy="2209.7" r="35.5" fill="none" stroke="#7f00ff" stroke-width="16"/>
<circle cx="2258.8" cy="2307.5" r="35.5" fill="none" stroke="#7f00ff" stroke-width="16"/>
<circle cx="2297.5" cy="2397.4" r="35.5" fill="none" stroke="#7f00ff" stroke-width="16"/>
<polygon points="2301.30,1780.70 2306.59,1797.02 2323.74,1797.01 2309.86,1807.08 2315.17,1823.39 2301.30,1813.30 2287.43,1823.39 2292.74,1807.08 2278.86,1797.01 2296.01,1797.02" fill="#fff" stroke="#ff0000" stroke-width="8.4" stroke-linejoin="round"/>
<text x="954.7" y="1878.9" font-size="47" text-anchor="middle" fill="#000">Froghopper [17]</text>
<text x="956.7" y="2133.3" font-size="47" text-anchor="middle" fill="#000">Flea-Sized Robot[27]</text>
<text x="197.6" y="2434.9" font-size="47" text-anchor="start" fill="#000">Trap-jaw ant[40]</text>
<text x="588.0" y="2476.5" font-size="47" text-anchor="start" fill="#000">Plant louse[41]</text>
<text x="2089.1" y="1616.5" font-size="47" text-anchor="start" fill="#000">Engineered jumper[11]</text>
<text x="2007.7" y="1769.6" font-size="47" text-anchor="start" fill="#000">MSU jumper-</text>
<text x="2048.4" y="1825.9" font-size="47" text-anchor="start" fill="#000">runner[8]</text>
<text x="1832.4" y="1785.1" font-size="47" text-anchor="start" fill="#000">Frog[19]</text>
<text x="1581.2" y="1863.9" font-size="47" text-anchor="start" fill="#000">Locust[16]</text>
<text x="1781.3" y="1924.7" font-size="47" text-anchor="start" fill="#000">EPFL 7g</text>
<text x="1782.9" y="1980.5" font-size="47" text-anchor="start" fill="#000">[21]</text>
<text x="1424.6" y="1949.0" font-size="47" text-anchor="start" fill="#000">Flea[20]</text>
<text x="1535.5" y="1997.8" font-size="47" text-anchor="start" fill="#000">Insect-scale</text>
<text x="1551.3" y="2054.6" font-size="47" text-anchor="start" fill="#000">robot[38]</text>
<text x="2394.0" y="1967.3" font-size="47" text-anchor="start" fill="#000">Scout[39]</text>
<text x="1964.1" y="2085.3" font-size="47" text-anchor="start" fill="#000">Tribot[28]</text>
<text x="1923.5" y="2155.8" font-size="47" text-anchor="middle" fill="#000">JumpRoACH[26]</text>
<text x="1924.0" y="2237.7" font-size="47" text-anchor="middle" fill="#000">Frog-inspired robot[12]</text>
<text x="1924.0" y="2331.5" font-size="47" text-anchor="middle" fill="#000">Salto[10]</text>
<text x="1953.4" y="2419.3" font-size="47" text-anchor="middle" fill="#000">Jumping–Crawling Robot[24]</text>
<text x="2312.1" y="1774.5" font-size="46" text-anchor="start" font-weight="bold" fill="#000" letter-spacing="1.6">Tumro</text>
</svg></body></html>
